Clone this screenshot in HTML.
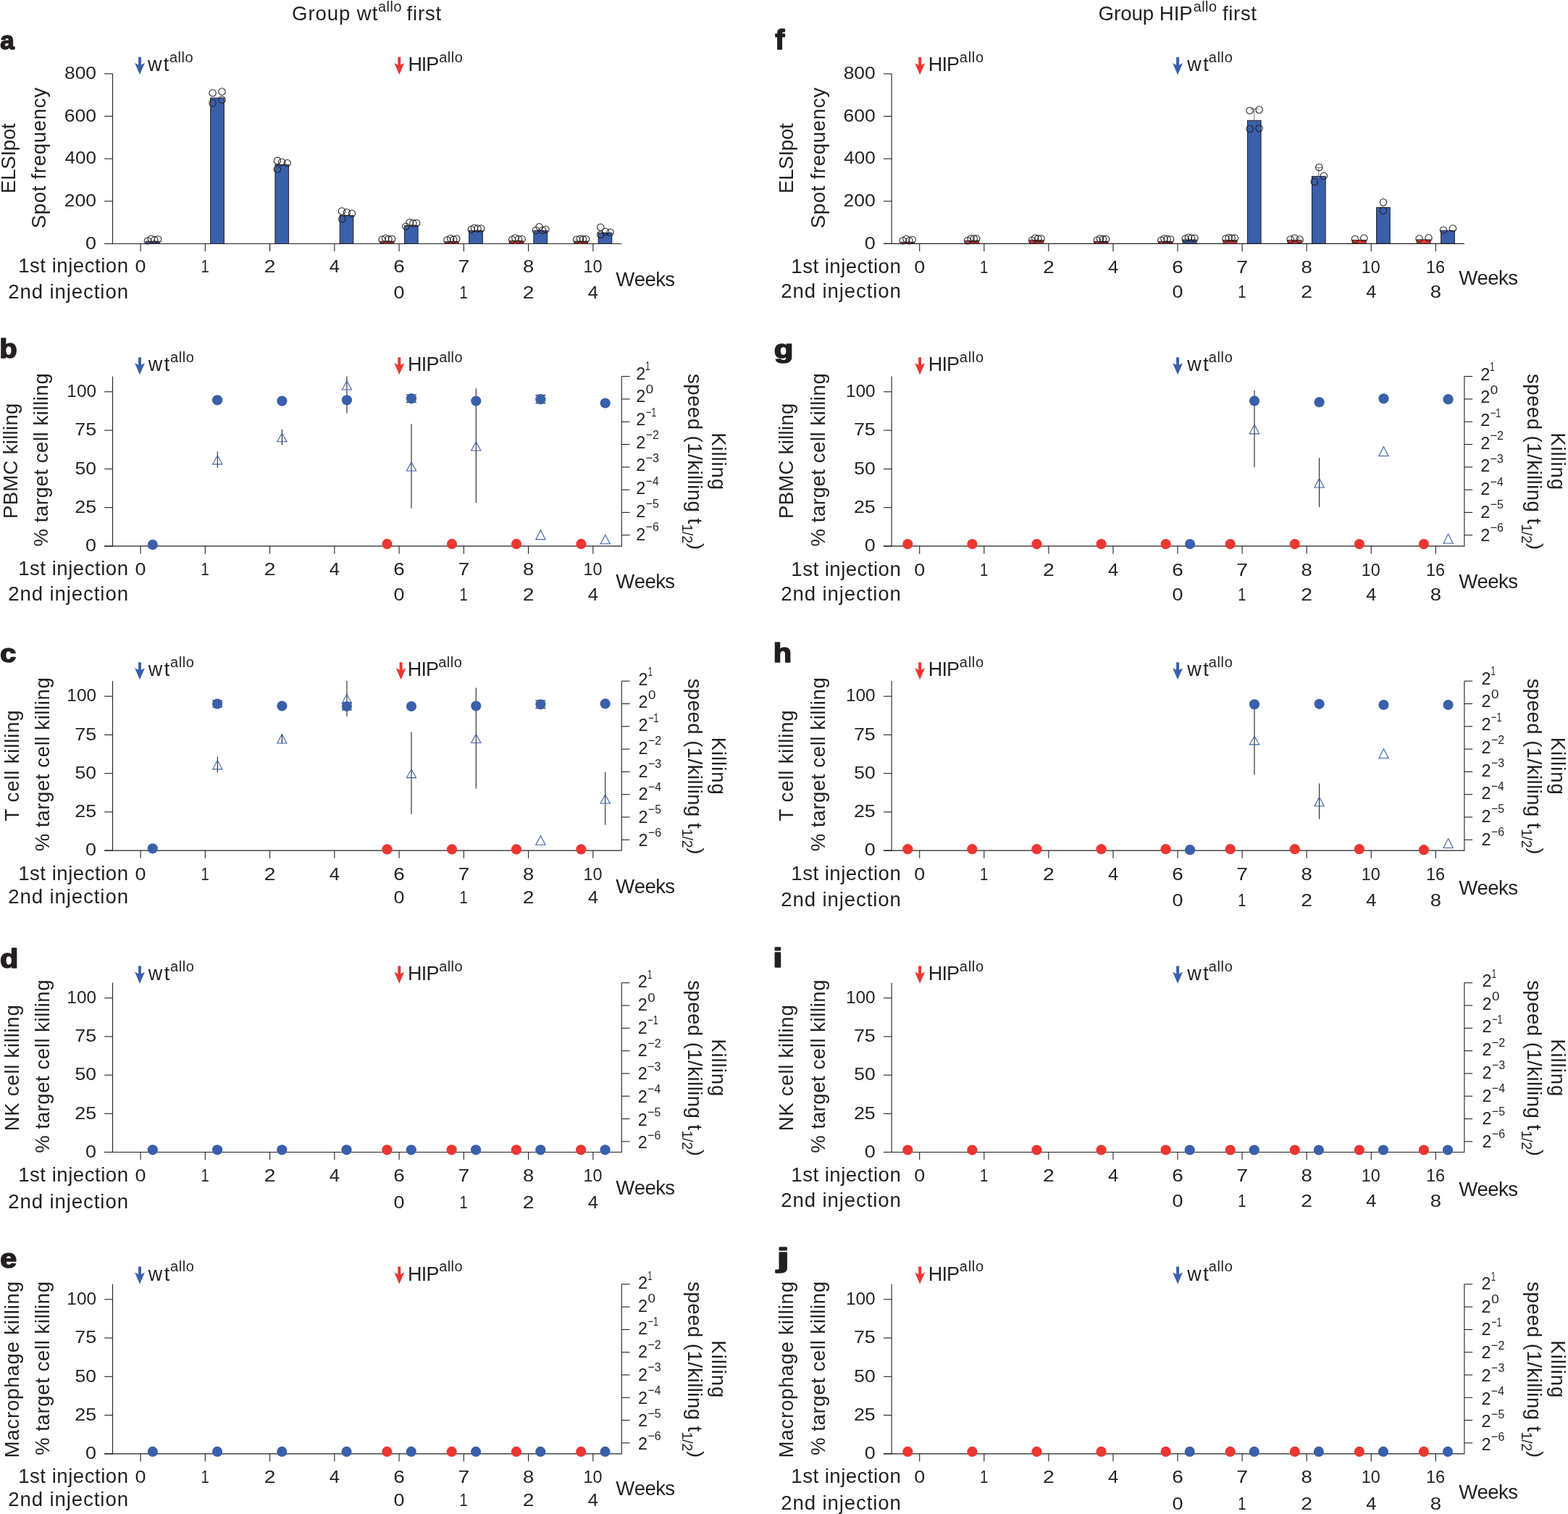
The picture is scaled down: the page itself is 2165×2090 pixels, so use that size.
<!DOCTYPE html>
<html><head><meta charset="utf-8"><title>Figure</title>
<style>
html,body{margin:0;padding:0;background:#fff;overflow:hidden;}
svg{display:block;}
text{font-family:"Liberation Sans",Arial,Helvetica,sans-serif;fill:#231f20;font-kerning:none;}
</style></head>
<body>
<svg xmlns="http://www.w3.org/2000/svg" width="2165" height="2090" viewBox="0 0 2165 2090">
<rect width="2165" height="2090" fill="#fff"/>
<text x="403.11" y="27.70" font-size="27.60" textLength="118.19" lengthAdjust="spacing">Group wt</text>
<text x="521.96" y="15.60" font-size="19.80" textLength="32.47" lengthAdjust="spacing">allo</text>
<text x="561.51" y="27.70" font-size="27.60" textLength="47.69" lengthAdjust="spacing">first</text>
<text x="1516.51" y="27.90" font-size="27.60" textLength="130.24" lengthAdjust="spacing">Group HIP</text>
<text x="1647.76" y="15.60" font-size="19.80" textLength="32.17" lengthAdjust="spacing">allo</text>
<text x="1688.01" y="27.90" font-size="27.60" textLength="46.99" lengthAdjust="spacing">first</text>
<text x="0.37" y="68.05" font-size="35.41" textLength="19.50" lengthAdjust="spacingAndGlyphs" font-weight="bold" stroke="#231f20" stroke-width="1.60" stroke-linejoin="round">a</text>
<line x1="155.50" y1="101.80" x2="155.50" y2="336.95" stroke="#231f20" stroke-width="1.10"/>
<line x1="144.20" y1="336.45" x2="155.50" y2="336.45" stroke="#231f20" stroke-width="1.10"/>
<text x="118.05" y="343.65" font-size="23.00" textLength="15.01" lengthAdjust="spacingAndGlyphs">0</text>
<line x1="144.20" y1="277.79" x2="155.50" y2="277.79" stroke="#231f20" stroke-width="1.10"/>
<text x="88.77" y="284.99" font-size="23.00" textLength="44.27" lengthAdjust="spacingAndGlyphs">200</text>
<line x1="144.20" y1="219.12" x2="155.50" y2="219.12" stroke="#231f20" stroke-width="1.10"/>
<text x="89.50" y="226.32" font-size="23.00" textLength="43.52" lengthAdjust="spacingAndGlyphs">400</text>
<line x1="144.20" y1="160.46" x2="155.50" y2="160.46" stroke="#231f20" stroke-width="1.10"/>
<text x="88.75" y="167.66" font-size="23.00" textLength="44.28" lengthAdjust="spacingAndGlyphs">600</text>
<line x1="144.20" y1="101.80" x2="155.50" y2="101.80" stroke="#231f20" stroke-width="1.10"/>
<text x="88.95" y="109.00" font-size="23.00" textLength="44.08" lengthAdjust="spacingAndGlyphs">800</text>
<g transform="translate(21.00 264.70) rotate(-90)"><text x="-2.26" y="0.00" font-size="27.60" textLength="96.67" lengthAdjust="spacing">ELSIpot</text></g>
<g transform="translate(62.90 314.10) rotate(-90)"><text x="-1.25" y="0.00" font-size="27.60" textLength="194.41" lengthAdjust="spacing">Spot frequency</text></g>
<polygon points="191.05,78.80 194.95,78.80 194.95,89.40 199.90,86.90 193.00,102.90 186.10,86.90 191.05,89.40" fill="#3a5fab"/>
<text x="203.94" y="97.90" font-size="27.00" textLength="29.36" lengthAdjust="spacing">wt</text>
<text x="233.95" y="85.80" font-size="20.00" textLength="32.79" lengthAdjust="spacing">allo</text>
<polygon points="549.35,78.80 553.25,78.80 553.25,89.40 558.20,86.90 551.30,102.90 544.40,86.90 549.35,89.40" fill="#ec3632"/>
<text x="563.39" y="97.90" font-size="27.00" textLength="42.94" lengthAdjust="spacing">HIP</text>
<text x="606.25" y="85.80" font-size="20.00" textLength="32.59" lengthAdjust="spacing">allo</text>
<rect x="201.40" y="333.20" width="18.7" height="3.25" fill="#3a5fab" stroke="#231f20" stroke-width="1"/>
<circle cx="203.90" cy="332.40" r="4.7" fill="none" stroke="#231f20" stroke-width="1.05"/>
<circle cx="208.80" cy="329.70" r="4.7" fill="none" stroke="#231f20" stroke-width="1.05"/>
<circle cx="213.30" cy="331.30" r="4.7" fill="none" stroke="#231f20" stroke-width="1.05"/>
<circle cx="218.10" cy="330.50" r="4.7" fill="none" stroke="#231f20" stroke-width="1.05"/>
<rect x="290.65" y="135.20" width="18.7" height="201.25" fill="#3a5fab" stroke="#231f20" stroke-width="1"/>
<circle cx="293.60" cy="128.40" r="4.7" fill="none" stroke="#231f20" stroke-width="1.05"/>
<circle cx="306.50" cy="126.50" r="4.7" fill="none" stroke="#231f20" stroke-width="1.05"/>
<circle cx="293.60" cy="142.20" r="4.7" fill="none" stroke="#231f20" stroke-width="1.05"/>
<circle cx="306.50" cy="137.70" r="4.7" fill="none" stroke="#231f20" stroke-width="1.05"/>
<rect x="379.90" y="227.30" width="18.7" height="109.15" fill="#3a5fab" stroke="#231f20" stroke-width="1"/>
<circle cx="382.90" cy="221.80" r="4.7" fill="none" stroke="#231f20" stroke-width="1.05"/>
<circle cx="389.30" cy="223.70" r="4.7" fill="none" stroke="#231f20" stroke-width="1.05"/>
<circle cx="396.70" cy="225.10" r="4.7" fill="none" stroke="#231f20" stroke-width="1.05"/>
<circle cx="382.90" cy="233.60" r="4.7" fill="none" stroke="#231f20" stroke-width="1.05"/>
<rect x="469.15" y="297.30" width="18.7" height="39.15" fill="#3a5fab" stroke="#231f20" stroke-width="1"/>
<circle cx="471.90" cy="291.50" r="4.7" fill="none" stroke="#231f20" stroke-width="1.05"/>
<circle cx="478.80" cy="293.30" r="4.7" fill="none" stroke="#231f20" stroke-width="1.05"/>
<circle cx="485.90" cy="294.80" r="4.7" fill="none" stroke="#231f20" stroke-width="1.05"/>
<circle cx="472.40" cy="302.40" r="4.7" fill="none" stroke="#231f20" stroke-width="1.05"/>
<rect x="525.10" y="333.10" width="18.7" height="3.35" fill="#ec3632" stroke="#231f20" stroke-width="1"/>
<circle cx="527.60" cy="330.80" r="4.7" fill="none" stroke="#231f20" stroke-width="1.05"/>
<circle cx="532.30" cy="329.00" r="4.7" fill="none" stroke="#231f20" stroke-width="1.05"/>
<circle cx="536.40" cy="330.20" r="4.7" fill="none" stroke="#231f20" stroke-width="1.05"/>
<circle cx="541.10" cy="330.00" r="4.7" fill="none" stroke="#231f20" stroke-width="1.05"/>
<rect x="558.40" y="311.40" width="18.7" height="25.05" fill="#3a5fab" stroke="#231f20" stroke-width="1"/>
<circle cx="560.40" cy="312.60" r="4.7" fill="none" stroke="#231f20" stroke-width="1.05"/>
<circle cx="565.70" cy="307.30" r="4.7" fill="none" stroke="#231f20" stroke-width="1.05"/>
<circle cx="570.40" cy="307.90" r="4.7" fill="none" stroke="#231f20" stroke-width="1.05"/>
<circle cx="575.10" cy="307.90" r="4.7" fill="none" stroke="#231f20" stroke-width="1.05"/>
<rect x="614.35" y="333.70" width="18.7" height="2.75" fill="#ec3632" stroke="#231f20" stroke-width="1"/>
<circle cx="617.40" cy="331.40" r="4.7" fill="none" stroke="#231f20" stroke-width="1.05"/>
<circle cx="622.10" cy="329.30" r="4.7" fill="none" stroke="#231f20" stroke-width="1.05"/>
<circle cx="626.20" cy="330.80" r="4.7" fill="none" stroke="#231f20" stroke-width="1.05"/>
<circle cx="630.30" cy="329.60" r="4.7" fill="none" stroke="#231f20" stroke-width="1.05"/>
<rect x="647.65" y="318.50" width="18.7" height="17.95" fill="#3a5fab" stroke="#231f20" stroke-width="1"/>
<circle cx="650.80" cy="316.70" r="4.7" fill="none" stroke="#231f20" stroke-width="1.05"/>
<circle cx="654.90" cy="314.70" r="4.7" fill="none" stroke="#231f20" stroke-width="1.05"/>
<circle cx="659.60" cy="315.50" r="4.7" fill="none" stroke="#231f20" stroke-width="1.05"/>
<circle cx="664.30" cy="315.50" r="4.7" fill="none" stroke="#231f20" stroke-width="1.05"/>
<rect x="703.60" y="332.60" width="18.7" height="3.85" fill="#ec3632" stroke="#231f20" stroke-width="1"/>
<circle cx="707.20" cy="330.80" r="4.7" fill="none" stroke="#231f20" stroke-width="1.05"/>
<circle cx="711.30" cy="328.50" r="4.7" fill="none" stroke="#231f20" stroke-width="1.05"/>
<circle cx="716.00" cy="330.20" r="4.7" fill="none" stroke="#231f20" stroke-width="1.05"/>
<circle cx="720.70" cy="330.20" r="4.7" fill="none" stroke="#231f20" stroke-width="1.05"/>
<rect x="736.90" y="318.50" width="18.7" height="17.95" fill="#3a5fab" stroke="#231f20" stroke-width="1"/>
<circle cx="739.90" cy="317.90" r="4.7" fill="none" stroke="#231f20" stroke-width="1.05"/>
<circle cx="744.60" cy="313.20" r="4.7" fill="none" stroke="#231f20" stroke-width="1.05"/>
<circle cx="749.20" cy="317.90" r="4.7" fill="none" stroke="#231f20" stroke-width="1.05"/>
<circle cx="753.40" cy="316.70" r="4.7" fill="none" stroke="#231f20" stroke-width="1.05"/>
<rect x="792.85" y="333.10" width="18.7" height="3.35" fill="#ec3632" stroke="#231f20" stroke-width="1"/>
<circle cx="796.20" cy="330.80" r="4.7" fill="none" stroke="#231f20" stroke-width="1.05"/>
<circle cx="800.90" cy="329.60" r="4.7" fill="none" stroke="#231f20" stroke-width="1.05"/>
<circle cx="805.00" cy="330.20" r="4.7" fill="none" stroke="#231f20" stroke-width="1.05"/>
<circle cx="809.10" cy="330.20" r="4.7" fill="none" stroke="#231f20" stroke-width="1.05"/>
<rect x="826.15" y="321.40" width="18.7" height="15.05" fill="#3a5fab" stroke="#231f20" stroke-width="1"/>
<circle cx="829.30" cy="313.80" r="4.7" fill="none" stroke="#231f20" stroke-width="1.05"/>
<circle cx="829.30" cy="323.80" r="4.7" fill="none" stroke="#231f20" stroke-width="1.05"/>
<circle cx="836.10" cy="319.70" r="4.7" fill="none" stroke="#231f20" stroke-width="1.05"/>
<circle cx="842.60" cy="320.80" r="4.7" fill="none" stroke="#231f20" stroke-width="1.05"/>
<line x1="144.10" y1="336.45" x2="858.30" y2="336.45" stroke="#231f20" stroke-width="1.10"/>
<line x1="194.10" y1="336.45" x2="194.10" y2="347.05" stroke="#231f20" stroke-width="1.10"/>
<text x="186.60" y="375.90" font-size="23.00" textLength="15.01" lengthAdjust="spacingAndGlyphs">0</text>
<line x1="283.35" y1="336.45" x2="283.35" y2="347.05" stroke="#231f20" stroke-width="1.10"/>
<text x="277.46" y="375.90" font-size="23.00" textLength="11.22" lengthAdjust="spacingAndGlyphs">1</text>
<line x1="372.60" y1="336.45" x2="372.60" y2="347.05" stroke="#231f20" stroke-width="1.10"/>
<text x="364.73" y="375.90" font-size="23.00" textLength="15.75" lengthAdjust="spacingAndGlyphs">2</text>
<line x1="461.85" y1="336.45" x2="461.85" y2="347.05" stroke="#231f20" stroke-width="1.10"/>
<text x="454.81" y="375.90" font-size="23.00" textLength="14.24" lengthAdjust="spacingAndGlyphs">4</text>
<line x1="551.10" y1="336.45" x2="551.10" y2="347.05" stroke="#231f20" stroke-width="1.10"/>
<text x="543.23" y="375.90" font-size="23.00" textLength="15.55" lengthAdjust="spacingAndGlyphs">6</text>
<text x="543.60" y="411.60" font-size="23.00" textLength="15.01" lengthAdjust="spacingAndGlyphs">0</text>
<line x1="640.35" y1="336.45" x2="640.35" y2="347.05" stroke="#231f20" stroke-width="1.10"/>
<text x="632.45" y="375.90" font-size="23.00" textLength="15.78" lengthAdjust="spacingAndGlyphs">7</text>
<text x="634.46" y="411.60" font-size="23.00" textLength="11.22" lengthAdjust="spacingAndGlyphs">1</text>
<line x1="729.60" y1="336.45" x2="729.60" y2="347.05" stroke="#231f20" stroke-width="1.10"/>
<text x="721.96" y="375.90" font-size="23.00" textLength="15.29" lengthAdjust="spacingAndGlyphs">8</text>
<text x="721.73" y="411.60" font-size="23.00" textLength="15.75" lengthAdjust="spacingAndGlyphs">2</text>
<line x1="818.85" y1="336.45" x2="818.85" y2="347.05" stroke="#231f20" stroke-width="1.10"/>
<text x="805.42" y="375.90" font-size="23.00" textLength="25.99" lengthAdjust="spacingAndGlyphs">10</text>
<text x="811.81" y="411.60" font-size="23.00" textLength="14.24" lengthAdjust="spacingAndGlyphs">4</text>
<text x="25.20" y="375.90" font-size="27.60" textLength="151.79" lengthAdjust="spacing">1st injection</text>
<text x="11.21" y="411.60" font-size="27.60" textLength="165.78" lengthAdjust="spacing">2nd injection</text>
<text x="850.28" y="394.60" font-size="27.60" textLength="81.82" lengthAdjust="spacing">Weeks</text>
<text x="1070.23" y="68.00" font-size="38.23" textLength="12.99" lengthAdjust="spacingAndGlyphs" font-weight="bold" stroke="#231f20" stroke-width="1.60" stroke-linejoin="round">f</text>
<line x1="1231.10" y1="101.90" x2="1231.10" y2="336.90" stroke="#231f20" stroke-width="1.10"/>
<line x1="1220.00" y1="336.40" x2="1231.10" y2="336.40" stroke="#231f20" stroke-width="1.10"/>
<text x="1193.75" y="343.60" font-size="23.00" textLength="15.01" lengthAdjust="spacingAndGlyphs">0</text>
<line x1="1220.00" y1="277.77" x2="1231.10" y2="277.77" stroke="#231f20" stroke-width="1.10"/>
<text x="1164.47" y="284.97" font-size="23.00" textLength="44.27" lengthAdjust="spacingAndGlyphs">200</text>
<line x1="1220.00" y1="219.15" x2="1231.10" y2="219.15" stroke="#231f20" stroke-width="1.10"/>
<text x="1165.20" y="226.35" font-size="23.00" textLength="43.52" lengthAdjust="spacingAndGlyphs">400</text>
<line x1="1220.00" y1="160.53" x2="1231.10" y2="160.53" stroke="#231f20" stroke-width="1.10"/>
<text x="1164.45" y="167.72" font-size="23.00" textLength="44.28" lengthAdjust="spacingAndGlyphs">600</text>
<line x1="1220.00" y1="101.90" x2="1231.10" y2="101.90" stroke="#231f20" stroke-width="1.10"/>
<text x="1164.65" y="109.10" font-size="23.00" textLength="44.08" lengthAdjust="spacingAndGlyphs">800</text>
<g transform="translate(1095.00 264.70) rotate(-90)"><text x="-2.26" y="0.00" font-size="27.60" textLength="96.67" lengthAdjust="spacing">ELSIpot</text></g>
<g transform="translate(1138.80 314.10) rotate(-90)"><text x="-1.25" y="0.00" font-size="27.60" textLength="194.41" lengthAdjust="spacing">Spot frequency</text></g>
<polygon points="1268.25,79.10 1272.15,79.10 1272.15,89.70 1277.10,87.20 1270.20,103.20 1263.30,87.20 1268.25,89.70" fill="#ec3632"/>
<text x="1281.69" y="98.20" font-size="27.00" textLength="43.44" lengthAdjust="spacing">HIP</text>
<text x="1324.85" y="86.10" font-size="20.00" textLength="33.29" lengthAdjust="spacing">allo</text>
<polygon points="1624.15,79.10 1628.05,79.10 1628.05,89.70 1633.00,87.20 1626.10,103.20 1619.20,87.20 1624.15,89.70" fill="#3a5fab"/>
<text x="1639.34" y="98.20" font-size="27.00" textLength="29.36" lengthAdjust="spacing">wt</text>
<text x="1668.75" y="86.10" font-size="20.00" textLength="33.09" lengthAdjust="spacing">allo</text>
<rect x="1243.70" y="334.30" width="18.7" height="2.10" fill="#ec3632" stroke="#231f20" stroke-width="1"/>
<circle cx="1246.70" cy="332.30" r="4.7" fill="none" stroke="#231f20" stroke-width="1.05"/>
<circle cx="1251.40" cy="330.00" r="4.7" fill="none" stroke="#231f20" stroke-width="1.05"/>
<circle cx="1255.50" cy="332.30" r="4.7" fill="none" stroke="#231f20" stroke-width="1.05"/>
<circle cx="1259.60" cy="330.90" r="4.7" fill="none" stroke="#231f20" stroke-width="1.05"/>
<rect x="1332.78" y="332.30" width="18.7" height="4.10" fill="#ec3632" stroke="#231f20" stroke-width="1"/>
<circle cx="1336.00" cy="332.30" r="4.7" fill="none" stroke="#231f20" stroke-width="1.05"/>
<circle cx="1340.60" cy="329.40" r="4.7" fill="none" stroke="#231f20" stroke-width="1.05"/>
<circle cx="1344.70" cy="329.40" r="4.7" fill="none" stroke="#231f20" stroke-width="1.05"/>
<circle cx="1348.30" cy="329.40" r="4.7" fill="none" stroke="#231f20" stroke-width="1.05"/>
<rect x="1421.86" y="331.70" width="18.7" height="4.70" fill="#ec3632" stroke="#231f20" stroke-width="1"/>
<circle cx="1425.10" cy="331.70" r="4.7" fill="none" stroke="#231f20" stroke-width="1.05"/>
<circle cx="1429.30" cy="328.80" r="4.7" fill="none" stroke="#231f20" stroke-width="1.05"/>
<circle cx="1433.40" cy="329.40" r="4.7" fill="none" stroke="#231f20" stroke-width="1.05"/>
<circle cx="1437.50" cy="329.40" r="4.7" fill="none" stroke="#231f20" stroke-width="1.05"/>
<rect x="1510.94" y="333.50" width="18.7" height="2.90" fill="#ec3632" stroke="#231f20" stroke-width="1"/>
<circle cx="1514.70" cy="331.70" r="4.7" fill="none" stroke="#231f20" stroke-width="1.05"/>
<circle cx="1518.80" cy="329.40" r="4.7" fill="none" stroke="#231f20" stroke-width="1.05"/>
<circle cx="1522.90" cy="330.00" r="4.7" fill="none" stroke="#231f20" stroke-width="1.05"/>
<circle cx="1527.00" cy="330.00" r="4.7" fill="none" stroke="#231f20" stroke-width="1.05"/>
<rect x="1600.02" y="333.50" width="18.7" height="2.90" fill="#ec3632" stroke="#231f20" stroke-width="1"/>
<circle cx="1603.30" cy="331.70" r="4.7" fill="none" stroke="#231f20" stroke-width="1.05"/>
<circle cx="1607.40" cy="329.40" r="4.7" fill="none" stroke="#231f20" stroke-width="1.05"/>
<circle cx="1611.50" cy="330.00" r="4.7" fill="none" stroke="#231f20" stroke-width="1.05"/>
<circle cx="1616.20" cy="330.50" r="4.7" fill="none" stroke="#231f20" stroke-width="1.05"/>
<rect x="1633.32" y="331.10" width="18.7" height="5.30" fill="#3a5fab" stroke="#231f20" stroke-width="1"/>
<circle cx="1636.70" cy="329.40" r="4.7" fill="none" stroke="#231f20" stroke-width="1.05"/>
<circle cx="1640.80" cy="327.60" r="4.7" fill="none" stroke="#231f20" stroke-width="1.05"/>
<circle cx="1645.00" cy="328.80" r="4.7" fill="none" stroke="#231f20" stroke-width="1.05"/>
<circle cx="1649.60" cy="328.80" r="4.7" fill="none" stroke="#231f20" stroke-width="1.05"/>
<rect x="1689.10" y="331.70" width="18.7" height="4.70" fill="#ec3632" stroke="#231f20" stroke-width="1"/>
<circle cx="1692.50" cy="329.40" r="4.7" fill="none" stroke="#231f20" stroke-width="1.05"/>
<circle cx="1696.60" cy="328.20" r="4.7" fill="none" stroke="#231f20" stroke-width="1.05"/>
<circle cx="1700.70" cy="328.80" r="4.7" fill="none" stroke="#231f20" stroke-width="1.05"/>
<circle cx="1704.80" cy="328.80" r="4.7" fill="none" stroke="#231f20" stroke-width="1.05"/>
<rect x="1778.18" y="331.70" width="18.7" height="4.70" fill="#ec3632" stroke="#231f20" stroke-width="1"/>
<circle cx="1781.70" cy="330.50" r="4.7" fill="none" stroke="#231f20" stroke-width="1.05"/>
<circle cx="1787.60" cy="328.80" r="4.7" fill="none" stroke="#231f20" stroke-width="1.05"/>
<circle cx="1794.60" cy="330.50" r="4.7" fill="none" stroke="#231f20" stroke-width="1.05"/>
<rect x="1867.26" y="331.50" width="18.7" height="4.90" fill="#ec3632" stroke="#231f20" stroke-width="1"/>
<circle cx="1870.90" cy="330.00" r="4.7" fill="none" stroke="#231f20" stroke-width="1.05"/>
<circle cx="1883.30" cy="328.80" r="4.7" fill="none" stroke="#231f20" stroke-width="1.05"/>
<rect x="1956.34" y="330.90" width="18.7" height="5.50" fill="#ec3632" stroke="#231f20" stroke-width="1"/>
<circle cx="1959.60" cy="329.40" r="4.7" fill="none" stroke="#231f20" stroke-width="1.05"/>
<circle cx="1972.50" cy="328.50" r="4.7" fill="none" stroke="#231f20" stroke-width="1.05"/>
<rect x="1722.40" y="166.30" width="18.7" height="170.10" fill="#3a5fab" stroke="#231f20" stroke-width="1"/>
<line x1="1731.75" y1="150.30" x2="1731.75" y2="166.20" stroke="#808080" stroke-width="1.10"/>
<line x1="1726.40" y1="150.30" x2="1737.90" y2="150.30" stroke="#808080" stroke-width="1.10"/>
<circle cx="1725.60" cy="152.60" r="4.7" fill="none" stroke="#231f20" stroke-width="1.05"/>
<circle cx="1738.60" cy="151.50" r="4.7" fill="none" stroke="#231f20" stroke-width="1.05"/>
<circle cx="1725.60" cy="177.90" r="4.7" fill="none" stroke="#231f20" stroke-width="1.05"/>
<circle cx="1738.60" cy="177.30" r="4.7" fill="none" stroke="#231f20" stroke-width="1.05"/>
<rect x="1811.48" y="243.40" width="18.7" height="93.00" fill="#3a5fab" stroke="#231f20" stroke-width="1"/>
<line x1="1820.83" y1="231.40" x2="1820.83" y2="243.40" stroke="#808080" stroke-width="1.10"/>
<line x1="1815.50" y1="231.40" x2="1826.60" y2="231.40" stroke="#808080" stroke-width="1.10"/>
<circle cx="1821.30" cy="231.00" r="4.7" fill="none" stroke="#231f20" stroke-width="1.05"/>
<circle cx="1827.80" cy="242.90" r="4.7" fill="none" stroke="#231f20" stroke-width="1.05"/>
<circle cx="1814.80" cy="251.00" r="4.7" fill="none" stroke="#231f20" stroke-width="1.05"/>
<rect x="1900.56" y="286.40" width="18.7" height="50.00" fill="#3a5fab" stroke="#231f20" stroke-width="1"/>
<circle cx="1910.00" cy="279.20" r="4.7" fill="none" stroke="#231f20" stroke-width="1.05"/>
<circle cx="1910.00" cy="290.80" r="4.7" fill="none" stroke="#231f20" stroke-width="1.05"/>
<rect x="1989.64" y="318.20" width="18.7" height="18.20" fill="#3a5fab" stroke="#231f20" stroke-width="1"/>
<circle cx="1993.00" cy="317.60" r="4.7" fill="none" stroke="#231f20" stroke-width="1.05"/>
<circle cx="2005.90" cy="315.40" r="4.7" fill="none" stroke="#231f20" stroke-width="1.05"/>
<line x1="1220.00" y1="336.40" x2="2021.90" y2="336.40" stroke="#231f20" stroke-width="1.10"/>
<line x1="1269.70" y1="336.40" x2="1269.70" y2="347.00" stroke="#231f20" stroke-width="1.10"/>
<text x="1262.20" y="377.00" font-size="23.00" textLength="15.01" lengthAdjust="spacingAndGlyphs">0</text>
<line x1="1358.78" y1="336.40" x2="1358.78" y2="347.00" stroke="#231f20" stroke-width="1.10"/>
<text x="1352.89" y="377.00" font-size="23.00" textLength="11.22" lengthAdjust="spacingAndGlyphs">1</text>
<line x1="1447.86" y1="336.40" x2="1447.86" y2="347.00" stroke="#231f20" stroke-width="1.10"/>
<text x="1439.99" y="377.00" font-size="23.00" textLength="15.75" lengthAdjust="spacingAndGlyphs">2</text>
<line x1="1536.94" y1="336.40" x2="1536.94" y2="347.00" stroke="#231f20" stroke-width="1.10"/>
<text x="1529.90" y="377.00" font-size="23.00" textLength="14.24" lengthAdjust="spacingAndGlyphs">4</text>
<line x1="1626.02" y1="336.40" x2="1626.02" y2="347.00" stroke="#231f20" stroke-width="1.10"/>
<text x="1618.15" y="377.00" font-size="23.00" textLength="15.55" lengthAdjust="spacingAndGlyphs">6</text>
<text x="1618.52" y="411.30" font-size="23.00" textLength="15.01" lengthAdjust="spacingAndGlyphs">0</text>
<line x1="1715.10" y1="336.40" x2="1715.10" y2="347.00" stroke="#231f20" stroke-width="1.10"/>
<text x="1707.20" y="377.00" font-size="23.00" textLength="15.78" lengthAdjust="spacingAndGlyphs">7</text>
<text x="1709.21" y="411.30" font-size="23.00" textLength="11.22" lengthAdjust="spacingAndGlyphs">1</text>
<line x1="1804.18" y1="336.40" x2="1804.18" y2="347.00" stroke="#231f20" stroke-width="1.10"/>
<text x="1796.54" y="377.00" font-size="23.00" textLength="15.29" lengthAdjust="spacingAndGlyphs">8</text>
<text x="1796.31" y="411.30" font-size="23.00" textLength="15.75" lengthAdjust="spacingAndGlyphs">2</text>
<line x1="1893.26" y1="336.40" x2="1893.26" y2="347.00" stroke="#231f20" stroke-width="1.10"/>
<text x="1879.83" y="377.00" font-size="23.00" textLength="25.99" lengthAdjust="spacingAndGlyphs">10</text>
<text x="1886.22" y="411.30" font-size="23.00" textLength="14.24" lengthAdjust="spacingAndGlyphs">4</text>
<line x1="1982.34" y1="336.40" x2="1982.34" y2="347.00" stroke="#231f20" stroke-width="1.10"/>
<text x="1968.90" y="377.00" font-size="23.00" textLength="26.12" lengthAdjust="spacingAndGlyphs">16</text>
<text x="1974.70" y="411.30" font-size="23.00" textLength="15.29" lengthAdjust="spacingAndGlyphs">8</text>
<text x="1092.30" y="377.00" font-size="27.60" textLength="151.49" lengthAdjust="spacing">1st injection</text>
<text x="1078.21" y="411.30" font-size="27.60" textLength="165.58" lengthAdjust="spacing">2nd injection</text>
<text x="2014.18" y="392.70" font-size="27.60" textLength="81.82" lengthAdjust="spacing">Weeks</text>
<text x="-0.74" y="494.44" font-size="37.31" textLength="24.49" lengthAdjust="spacingAndGlyphs" font-weight="bold" stroke="#231f20" stroke-width="1.60" stroke-linejoin="round">b</text>
<line x1="155.50" y1="519.60" x2="155.50" y2="754.40" stroke="#231f20" stroke-width="1.10"/>
<line x1="144.20" y1="753.90" x2="155.50" y2="753.90" stroke="#231f20" stroke-width="1.10"/>
<text x="118.05" y="761.10" font-size="23.00" textLength="15.01" lengthAdjust="spacingAndGlyphs">0</text>
<line x1="144.20" y1="700.62" x2="155.50" y2="700.62" stroke="#231f20" stroke-width="1.10"/>
<text x="103.25" y="707.83" font-size="23.00" textLength="29.88" lengthAdjust="spacingAndGlyphs">25</text>
<line x1="144.20" y1="647.35" x2="155.50" y2="647.35" stroke="#231f20" stroke-width="1.10"/>
<text x="103.54" y="654.55" font-size="23.00" textLength="29.50" lengthAdjust="spacingAndGlyphs">50</text>
<line x1="144.20" y1="594.07" x2="155.50" y2="594.07" stroke="#231f20" stroke-width="1.10"/>
<text x="103.22" y="601.27" font-size="23.00" textLength="29.91" lengthAdjust="spacingAndGlyphs">75</text>
<line x1="144.20" y1="540.80" x2="155.50" y2="540.80" stroke="#231f20" stroke-width="1.10"/>
<text x="92.35" y="548.00" font-size="23.00" textLength="40.60" lengthAdjust="spacingAndGlyphs">100</text>
<line x1="858.30" y1="519.60" x2="858.30" y2="754.40" stroke="#231f20" stroke-width="1.10"/>
<line x1="858.30" y1="519.60" x2="869.50" y2="519.60" stroke="#231f20" stroke-width="1.10"/>
<text x="878.22" y="523.60" font-size="23.00" textLength="13.06" lengthAdjust="spacingAndGlyphs">2</text>
<text x="891.33" y="511.10" font-size="17.30" textLength="6.32" lengthAdjust="spacingAndGlyphs">1</text>
<line x1="858.30" y1="550.90" x2="869.50" y2="550.90" stroke="#231f20" stroke-width="1.10"/>
<text x="878.22" y="555.30" font-size="23.00" textLength="13.06" lengthAdjust="spacingAndGlyphs">2</text>
<text x="891.76" y="542.80" font-size="17.30" textLength="10.47" lengthAdjust="spacingAndGlyphs">0</text>
<line x1="858.30" y1="582.20" x2="869.50" y2="582.20" stroke="#231f20" stroke-width="1.10"/>
<text x="878.22" y="587.00" font-size="23.00" textLength="13.06" lengthAdjust="spacingAndGlyphs">2</text>
<text x="891.88" y="574.50" font-size="17.30" textLength="14.33" lengthAdjust="spacingAndGlyphs">−1</text>
<line x1="858.30" y1="613.50" x2="869.50" y2="613.50" stroke="#231f20" stroke-width="1.10"/>
<text x="878.22" y="618.70" font-size="23.00" textLength="13.06" lengthAdjust="spacingAndGlyphs">2</text>
<text x="891.71" y="606.20" font-size="17.30" textLength="18.30" lengthAdjust="spacingAndGlyphs">−2</text>
<line x1="858.30" y1="644.80" x2="869.50" y2="644.80" stroke="#231f20" stroke-width="1.10"/>
<text x="878.22" y="650.40" font-size="23.00" textLength="13.06" lengthAdjust="spacingAndGlyphs">2</text>
<text x="891.71" y="637.90" font-size="17.30" textLength="18.19" lengthAdjust="spacingAndGlyphs">−3</text>
<line x1="858.30" y1="676.10" x2="869.50" y2="676.10" stroke="#231f20" stroke-width="1.10"/>
<text x="878.22" y="682.10" font-size="23.00" textLength="13.06" lengthAdjust="spacingAndGlyphs">2</text>
<text x="891.72" y="669.60" font-size="17.30" textLength="17.94" lengthAdjust="spacingAndGlyphs">−4</text>
<line x1="858.30" y1="707.40" x2="869.50" y2="707.40" stroke="#231f20" stroke-width="1.10"/>
<text x="878.22" y="713.80" font-size="23.00" textLength="13.06" lengthAdjust="spacingAndGlyphs">2</text>
<text x="891.71" y="701.30" font-size="17.30" textLength="18.15" lengthAdjust="spacingAndGlyphs">−5</text>
<line x1="858.30" y1="738.70" x2="869.50" y2="738.70" stroke="#231f20" stroke-width="1.10"/>
<text x="878.22" y="745.50" font-size="23.00" textLength="13.06" lengthAdjust="spacingAndGlyphs">2</text>
<text x="891.71" y="733.00" font-size="17.30" textLength="18.19" lengthAdjust="spacingAndGlyphs">−6</text>
<g transform="translate(983.00 599.40) rotate(90)"><text x="-2.26" y="0.00" font-size="27.60" textLength="79.04" lengthAdjust="spacing">Killing</text></g>
<g transform="translate(950.30 516.80) rotate(90)"><text x="-0.77" y="0.00" font-size="27.60" textLength="207.07" lengthAdjust="spacing">speed (1/killing t</text></g>
<g transform="translate(942.10 724.90) rotate(90)"><text x="-1.49" y="0.00" font-size="19.60" textLength="26.68" lengthAdjust="spacing">1/2</text></g>
<g transform="translate(952.50 749.90) rotate(90)"><text x="-0.16" y="0.00" font-size="26.50" textLength="9.17" lengthAdjust="spacingAndGlyphs">)</text></g>
<g transform="translate(24.40 713.70) rotate(-90)"><text x="-2.26" y="0.00" font-size="27.60" textLength="159.34" lengthAdjust="spacing">PBMC killing</text></g>
<g transform="translate(65.90 753.60) rotate(-90)"><text x="-0.98" y="0.00" font-size="27.60" textLength="239.36" lengthAdjust="spacing">% target cell killing</text></g>
<line x1="144.10" y1="753.90" x2="858.30" y2="753.90" stroke="#231f20" stroke-width="1.10"/>
<line x1="194.10" y1="753.90" x2="194.10" y2="764.50" stroke="#231f20" stroke-width="1.10"/>
<text x="186.60" y="793.90" font-size="23.00" textLength="15.01" lengthAdjust="spacingAndGlyphs">0</text>
<line x1="283.35" y1="753.90" x2="283.35" y2="764.50" stroke="#231f20" stroke-width="1.10"/>
<text x="277.46" y="793.90" font-size="23.00" textLength="11.22" lengthAdjust="spacingAndGlyphs">1</text>
<line x1="372.60" y1="753.90" x2="372.60" y2="764.50" stroke="#231f20" stroke-width="1.10"/>
<text x="364.73" y="793.90" font-size="23.00" textLength="15.75" lengthAdjust="spacingAndGlyphs">2</text>
<line x1="461.85" y1="753.90" x2="461.85" y2="764.50" stroke="#231f20" stroke-width="1.10"/>
<text x="454.81" y="793.90" font-size="23.00" textLength="14.24" lengthAdjust="spacingAndGlyphs">4</text>
<line x1="551.10" y1="753.90" x2="551.10" y2="764.50" stroke="#231f20" stroke-width="1.10"/>
<text x="543.23" y="793.90" font-size="23.00" textLength="15.55" lengthAdjust="spacingAndGlyphs">6</text>
<text x="543.60" y="829.10" font-size="23.00" textLength="15.01" lengthAdjust="spacingAndGlyphs">0</text>
<line x1="640.35" y1="753.90" x2="640.35" y2="764.50" stroke="#231f20" stroke-width="1.10"/>
<text x="632.45" y="793.90" font-size="23.00" textLength="15.78" lengthAdjust="spacingAndGlyphs">7</text>
<text x="634.46" y="829.10" font-size="23.00" textLength="11.22" lengthAdjust="spacingAndGlyphs">1</text>
<line x1="729.60" y1="753.90" x2="729.60" y2="764.50" stroke="#231f20" stroke-width="1.10"/>
<text x="721.96" y="793.90" font-size="23.00" textLength="15.29" lengthAdjust="spacingAndGlyphs">8</text>
<text x="721.73" y="829.10" font-size="23.00" textLength="15.75" lengthAdjust="spacingAndGlyphs">2</text>
<line x1="818.85" y1="753.90" x2="818.85" y2="764.50" stroke="#231f20" stroke-width="1.10"/>
<text x="805.42" y="793.90" font-size="23.00" textLength="25.99" lengthAdjust="spacingAndGlyphs">10</text>
<text x="811.81" y="829.10" font-size="23.00" textLength="14.24" lengthAdjust="spacingAndGlyphs">4</text>
<text x="25.20" y="793.90" font-size="27.60" textLength="151.79" lengthAdjust="spacing">1st injection</text>
<text x="11.21" y="829.10" font-size="27.60" textLength="165.78" lengthAdjust="spacing">2nd injection</text>
<text x="850.28" y="812.10" font-size="27.60" textLength="81.82" lengthAdjust="spacing">Weeks</text>
<text x="1068.81" y="494.21" font-size="34.38" textLength="26.60" lengthAdjust="spacingAndGlyphs" font-weight="bold" stroke="#231f20" stroke-width="1.60" stroke-linejoin="round">g</text>
<line x1="1231.10" y1="519.60" x2="1231.10" y2="754.40" stroke="#231f20" stroke-width="1.10"/>
<line x1="1220.00" y1="753.90" x2="1231.10" y2="753.90" stroke="#231f20" stroke-width="1.10"/>
<text x="1193.75" y="761.10" font-size="23.00" textLength="15.01" lengthAdjust="spacingAndGlyphs">0</text>
<line x1="1220.00" y1="700.62" x2="1231.10" y2="700.62" stroke="#231f20" stroke-width="1.10"/>
<text x="1178.95" y="707.83" font-size="23.00" textLength="29.88" lengthAdjust="spacingAndGlyphs">25</text>
<line x1="1220.00" y1="647.35" x2="1231.10" y2="647.35" stroke="#231f20" stroke-width="1.10"/>
<text x="1179.24" y="654.55" font-size="23.00" textLength="29.50" lengthAdjust="spacingAndGlyphs">50</text>
<line x1="1220.00" y1="594.07" x2="1231.10" y2="594.07" stroke="#231f20" stroke-width="1.10"/>
<text x="1178.92" y="601.27" font-size="23.00" textLength="29.91" lengthAdjust="spacingAndGlyphs">75</text>
<line x1="1220.00" y1="540.80" x2="1231.10" y2="540.80" stroke="#231f20" stroke-width="1.10"/>
<text x="1168.05" y="548.00" font-size="23.00" textLength="40.60" lengthAdjust="spacingAndGlyphs">100</text>
<line x1="2021.90" y1="519.60" x2="2021.90" y2="754.40" stroke="#231f20" stroke-width="1.10"/>
<line x1="2021.90" y1="519.60" x2="2033.10" y2="519.60" stroke="#231f20" stroke-width="1.10"/>
<text x="2044.22" y="524.60" font-size="23.00" textLength="13.06" lengthAdjust="spacingAndGlyphs">2</text>
<text x="2057.33" y="512.10" font-size="17.30" textLength="6.32" lengthAdjust="spacingAndGlyphs">1</text>
<line x1="2021.90" y1="550.90" x2="2033.10" y2="550.90" stroke="#231f20" stroke-width="1.10"/>
<text x="2044.22" y="556.30" font-size="23.00" textLength="13.06" lengthAdjust="spacingAndGlyphs">2</text>
<text x="2057.76" y="543.80" font-size="17.30" textLength="10.47" lengthAdjust="spacingAndGlyphs">0</text>
<line x1="2021.90" y1="582.20" x2="2033.10" y2="582.20" stroke="#231f20" stroke-width="1.10"/>
<text x="2044.22" y="588.00" font-size="23.00" textLength="13.06" lengthAdjust="spacingAndGlyphs">2</text>
<text x="2057.88" y="575.50" font-size="17.30" textLength="14.33" lengthAdjust="spacingAndGlyphs">−1</text>
<line x1="2021.90" y1="613.50" x2="2033.10" y2="613.50" stroke="#231f20" stroke-width="1.10"/>
<text x="2044.22" y="619.70" font-size="23.00" textLength="13.06" lengthAdjust="spacingAndGlyphs">2</text>
<text x="2057.71" y="607.20" font-size="17.30" textLength="18.30" lengthAdjust="spacingAndGlyphs">−2</text>
<line x1="2021.90" y1="644.80" x2="2033.10" y2="644.80" stroke="#231f20" stroke-width="1.10"/>
<text x="2044.22" y="651.40" font-size="23.00" textLength="13.06" lengthAdjust="spacingAndGlyphs">2</text>
<text x="2057.71" y="638.90" font-size="17.30" textLength="18.19" lengthAdjust="spacingAndGlyphs">−3</text>
<line x1="2021.90" y1="676.10" x2="2033.10" y2="676.10" stroke="#231f20" stroke-width="1.10"/>
<text x="2044.22" y="683.10" font-size="23.00" textLength="13.06" lengthAdjust="spacingAndGlyphs">2</text>
<text x="2057.72" y="670.60" font-size="17.30" textLength="17.94" lengthAdjust="spacingAndGlyphs">−4</text>
<line x1="2021.90" y1="707.40" x2="2033.10" y2="707.40" stroke="#231f20" stroke-width="1.10"/>
<text x="2044.22" y="714.80" font-size="23.00" textLength="13.06" lengthAdjust="spacingAndGlyphs">2</text>
<text x="2057.71" y="702.30" font-size="17.30" textLength="18.15" lengthAdjust="spacingAndGlyphs">−5</text>
<line x1="2021.90" y1="738.70" x2="2033.10" y2="738.70" stroke="#231f20" stroke-width="1.10"/>
<text x="2044.22" y="746.50" font-size="23.00" textLength="13.06" lengthAdjust="spacingAndGlyphs">2</text>
<text x="2057.71" y="734.00" font-size="17.30" textLength="18.19" lengthAdjust="spacingAndGlyphs">−6</text>
<g transform="translate(2142.00 599.40) rotate(90)"><text x="-2.26" y="0.00" font-size="27.60" textLength="79.04" lengthAdjust="spacing">Killing</text></g>
<g transform="translate(2109.30 516.80) rotate(90)"><text x="-0.77" y="0.00" font-size="27.60" textLength="207.07" lengthAdjust="spacing">speed (1/killing t</text></g>
<g transform="translate(2101.10 724.90) rotate(90)"><text x="-1.49" y="0.00" font-size="19.60" textLength="26.68" lengthAdjust="spacing">1/2</text></g>
<g transform="translate(2111.50 749.90) rotate(90)"><text x="-0.16" y="0.00" font-size="26.50" textLength="9.17" lengthAdjust="spacingAndGlyphs">)</text></g>
<g transform="translate(1094.90 713.70) rotate(-90)"><text x="-2.26" y="0.00" font-size="27.60" textLength="159.34" lengthAdjust="spacing">PBMC killing</text></g>
<g transform="translate(1138.80 753.60) rotate(-90)"><text x="-0.98" y="0.00" font-size="27.60" textLength="239.36" lengthAdjust="spacing">% target cell killing</text></g>
<line x1="1220.00" y1="753.90" x2="2021.90" y2="753.90" stroke="#231f20" stroke-width="1.10"/>
<line x1="1269.70" y1="753.90" x2="1269.70" y2="764.50" stroke="#231f20" stroke-width="1.10"/>
<text x="1262.20" y="794.50" font-size="23.00" textLength="15.01" lengthAdjust="spacingAndGlyphs">0</text>
<line x1="1358.78" y1="753.90" x2="1358.78" y2="764.50" stroke="#231f20" stroke-width="1.10"/>
<text x="1352.89" y="794.50" font-size="23.00" textLength="11.22" lengthAdjust="spacingAndGlyphs">1</text>
<line x1="1447.86" y1="753.90" x2="1447.86" y2="764.50" stroke="#231f20" stroke-width="1.10"/>
<text x="1439.99" y="794.50" font-size="23.00" textLength="15.75" lengthAdjust="spacingAndGlyphs">2</text>
<line x1="1536.94" y1="753.90" x2="1536.94" y2="764.50" stroke="#231f20" stroke-width="1.10"/>
<text x="1529.90" y="794.50" font-size="23.00" textLength="14.24" lengthAdjust="spacingAndGlyphs">4</text>
<line x1="1626.02" y1="753.90" x2="1626.02" y2="764.50" stroke="#231f20" stroke-width="1.10"/>
<text x="1618.15" y="794.50" font-size="23.00" textLength="15.55" lengthAdjust="spacingAndGlyphs">6</text>
<text x="1618.52" y="829.10" font-size="23.00" textLength="15.01" lengthAdjust="spacingAndGlyphs">0</text>
<line x1="1715.10" y1="753.90" x2="1715.10" y2="764.50" stroke="#231f20" stroke-width="1.10"/>
<text x="1707.20" y="794.50" font-size="23.00" textLength="15.78" lengthAdjust="spacingAndGlyphs">7</text>
<text x="1709.21" y="829.10" font-size="23.00" textLength="11.22" lengthAdjust="spacingAndGlyphs">1</text>
<line x1="1804.18" y1="753.90" x2="1804.18" y2="764.50" stroke="#231f20" stroke-width="1.10"/>
<text x="1796.54" y="794.50" font-size="23.00" textLength="15.29" lengthAdjust="spacingAndGlyphs">8</text>
<text x="1796.31" y="829.10" font-size="23.00" textLength="15.75" lengthAdjust="spacingAndGlyphs">2</text>
<line x1="1893.26" y1="753.90" x2="1893.26" y2="764.50" stroke="#231f20" stroke-width="1.10"/>
<text x="1879.83" y="794.50" font-size="23.00" textLength="25.99" lengthAdjust="spacingAndGlyphs">10</text>
<text x="1886.22" y="829.10" font-size="23.00" textLength="14.24" lengthAdjust="spacingAndGlyphs">4</text>
<line x1="1982.34" y1="753.90" x2="1982.34" y2="764.50" stroke="#231f20" stroke-width="1.10"/>
<text x="1968.90" y="794.50" font-size="23.00" textLength="26.12" lengthAdjust="spacingAndGlyphs">16</text>
<text x="1974.70" y="829.10" font-size="23.00" textLength="15.29" lengthAdjust="spacingAndGlyphs">8</text>
<text x="1092.30" y="794.50" font-size="27.60" textLength="151.49" lengthAdjust="spacing">1st injection</text>
<text x="1078.21" y="829.10" font-size="27.60" textLength="165.58" lengthAdjust="spacing">2nd injection</text>
<text x="2014.18" y="811.80" font-size="27.60" textLength="81.82" lengthAdjust="spacing">Weeks</text>
<polygon points="191.05,493.20 194.95,493.20 194.95,503.80 199.90,501.30 193.00,517.30 186.10,501.30 191.05,503.80" fill="#3a5fab"/>
<text x="204.74" y="512.30" font-size="27.00" textLength="29.46" lengthAdjust="spacing">wt</text>
<text x="235.05" y="500.20" font-size="20.00" textLength="32.79" lengthAdjust="spacing">allo</text>
<polygon points="549.35,493.20 553.25,493.20 553.25,503.80 558.20,501.30 551.30,517.30 544.40,501.30 549.35,503.80" fill="#ec3632"/>
<text x="562.99" y="512.30" font-size="27.00" textLength="43.44" lengthAdjust="spacing">HIP</text>
<text x="606.15" y="500.20" font-size="20.00" textLength="32.49" lengthAdjust="spacing">allo</text>
<polygon points="1268.15,493.20 1272.05,493.20 1272.05,503.80 1277.00,501.30 1270.10,517.30 1263.20,501.30 1268.15,503.80" fill="#ec3632"/>
<text x="1281.69" y="512.30" font-size="27.00" textLength="43.44" lengthAdjust="spacing">HIP</text>
<text x="1324.85" y="500.20" font-size="20.00" textLength="33.29" lengthAdjust="spacing">allo</text>
<polygon points="1624.15,493.20 1628.05,493.20 1628.05,503.80 1633.00,501.30 1626.10,517.30 1619.20,501.30 1624.15,503.80" fill="#3a5fab"/>
<text x="1639.34" y="512.30" font-size="27.00" textLength="29.36" lengthAdjust="spacing">wt</text>
<text x="1668.75" y="500.20" font-size="20.00" textLength="33.09" lengthAdjust="spacing">allo</text>
<text x="0.25" y="914.06" font-size="34.50" textLength="22.00" lengthAdjust="spacingAndGlyphs" font-weight="bold" stroke="#231f20" stroke-width="1.60" stroke-linejoin="round">c</text>
<line x1="155.50" y1="940.20" x2="155.50" y2="1174.60" stroke="#231f20" stroke-width="1.10"/>
<line x1="144.20" y1="1174.10" x2="155.50" y2="1174.10" stroke="#231f20" stroke-width="1.10"/>
<text x="118.05" y="1181.30" font-size="23.00" textLength="15.01" lengthAdjust="spacingAndGlyphs">0</text>
<line x1="144.20" y1="1120.88" x2="155.50" y2="1120.88" stroke="#231f20" stroke-width="1.10"/>
<text x="103.25" y="1128.08" font-size="23.00" textLength="29.88" lengthAdjust="spacingAndGlyphs">25</text>
<line x1="144.20" y1="1067.65" x2="155.50" y2="1067.65" stroke="#231f20" stroke-width="1.10"/>
<text x="103.54" y="1074.85" font-size="23.00" textLength="29.50" lengthAdjust="spacingAndGlyphs">50</text>
<line x1="144.20" y1="1014.42" x2="155.50" y2="1014.42" stroke="#231f20" stroke-width="1.10"/>
<text x="103.22" y="1021.62" font-size="23.00" textLength="29.91" lengthAdjust="spacingAndGlyphs">75</text>
<line x1="144.20" y1="961.20" x2="155.50" y2="961.20" stroke="#231f20" stroke-width="1.10"/>
<text x="92.35" y="968.40" font-size="23.00" textLength="40.60" lengthAdjust="spacingAndGlyphs">100</text>
<line x1="858.30" y1="940.20" x2="858.30" y2="1174.60" stroke="#231f20" stroke-width="1.10"/>
<line x1="858.30" y1="940.20" x2="869.50" y2="940.20" stroke="#231f20" stroke-width="1.10"/>
<text x="881.52" y="945.70" font-size="23.00" textLength="13.06" lengthAdjust="spacingAndGlyphs">2</text>
<text x="894.63" y="933.20" font-size="17.30" textLength="6.32" lengthAdjust="spacingAndGlyphs">1</text>
<line x1="858.30" y1="971.50" x2="869.50" y2="971.50" stroke="#231f20" stroke-width="1.10"/>
<text x="881.52" y="977.40" font-size="23.00" textLength="13.06" lengthAdjust="spacingAndGlyphs">2</text>
<text x="895.06" y="964.90" font-size="17.30" textLength="10.47" lengthAdjust="spacingAndGlyphs">0</text>
<line x1="858.30" y1="1002.80" x2="869.50" y2="1002.80" stroke="#231f20" stroke-width="1.10"/>
<text x="881.52" y="1009.10" font-size="23.00" textLength="13.06" lengthAdjust="spacingAndGlyphs">2</text>
<text x="895.18" y="996.60" font-size="17.30" textLength="14.33" lengthAdjust="spacingAndGlyphs">−1</text>
<line x1="858.30" y1="1034.10" x2="869.50" y2="1034.10" stroke="#231f20" stroke-width="1.10"/>
<text x="881.52" y="1040.80" font-size="23.00" textLength="13.06" lengthAdjust="spacingAndGlyphs">2</text>
<text x="895.01" y="1028.30" font-size="17.30" textLength="18.30" lengthAdjust="spacingAndGlyphs">−2</text>
<line x1="858.30" y1="1065.40" x2="869.50" y2="1065.40" stroke="#231f20" stroke-width="1.10"/>
<text x="881.52" y="1072.50" font-size="23.00" textLength="13.06" lengthAdjust="spacingAndGlyphs">2</text>
<text x="895.01" y="1060.00" font-size="17.30" textLength="18.19" lengthAdjust="spacingAndGlyphs">−3</text>
<line x1="858.30" y1="1096.70" x2="869.50" y2="1096.70" stroke="#231f20" stroke-width="1.10"/>
<text x="881.52" y="1104.20" font-size="23.00" textLength="13.06" lengthAdjust="spacingAndGlyphs">2</text>
<text x="895.02" y="1091.70" font-size="17.30" textLength="17.94" lengthAdjust="spacingAndGlyphs">−4</text>
<line x1="858.30" y1="1128.00" x2="869.50" y2="1128.00" stroke="#231f20" stroke-width="1.10"/>
<text x="881.52" y="1135.90" font-size="23.00" textLength="13.06" lengthAdjust="spacingAndGlyphs">2</text>
<text x="895.01" y="1123.40" font-size="17.30" textLength="18.15" lengthAdjust="spacingAndGlyphs">−5</text>
<line x1="858.30" y1="1159.30" x2="869.50" y2="1159.30" stroke="#231f20" stroke-width="1.10"/>
<text x="881.52" y="1167.60" font-size="23.00" textLength="13.06" lengthAdjust="spacingAndGlyphs">2</text>
<text x="895.01" y="1155.10" font-size="17.30" textLength="18.19" lengthAdjust="spacingAndGlyphs">−6</text>
<g transform="translate(983.00 1020.00) rotate(90)"><text x="-2.26" y="0.00" font-size="27.60" textLength="79.04" lengthAdjust="spacing">Killing</text></g>
<g transform="translate(950.30 937.40) rotate(90)"><text x="-0.77" y="0.00" font-size="27.60" textLength="207.07" lengthAdjust="spacing">speed (1/killing t</text></g>
<g transform="translate(942.10 1145.50) rotate(90)"><text x="-1.49" y="0.00" font-size="19.60" textLength="26.68" lengthAdjust="spacing">1/2</text></g>
<g transform="translate(952.50 1170.50) rotate(90)"><text x="-0.16" y="0.00" font-size="26.50" textLength="9.17" lengthAdjust="spacingAndGlyphs">)</text></g>
<g transform="translate(25.90 1132.90) rotate(-90)"><text x="-0.62" y="0.00" font-size="27.60" textLength="153.20" lengthAdjust="spacing">T cell killing</text></g>
<g transform="translate(67.80 1174.30) rotate(-90)"><text x="-0.98" y="0.00" font-size="27.60" textLength="240.06" lengthAdjust="spacing">% target cell killing</text></g>
<line x1="144.10" y1="1174.10" x2="858.30" y2="1174.10" stroke="#231f20" stroke-width="1.10"/>
<line x1="194.10" y1="1174.10" x2="194.10" y2="1184.70" stroke="#231f20" stroke-width="1.10"/>
<text x="186.60" y="1214.70" font-size="23.00" textLength="15.01" lengthAdjust="spacingAndGlyphs">0</text>
<line x1="283.35" y1="1174.10" x2="283.35" y2="1184.70" stroke="#231f20" stroke-width="1.10"/>
<text x="277.46" y="1214.70" font-size="23.00" textLength="11.22" lengthAdjust="spacingAndGlyphs">1</text>
<line x1="372.60" y1="1174.10" x2="372.60" y2="1184.70" stroke="#231f20" stroke-width="1.10"/>
<text x="364.73" y="1214.70" font-size="23.00" textLength="15.75" lengthAdjust="spacingAndGlyphs">2</text>
<line x1="461.85" y1="1174.10" x2="461.85" y2="1184.70" stroke="#231f20" stroke-width="1.10"/>
<text x="454.81" y="1214.70" font-size="23.00" textLength="14.24" lengthAdjust="spacingAndGlyphs">4</text>
<line x1="551.10" y1="1174.10" x2="551.10" y2="1184.70" stroke="#231f20" stroke-width="1.10"/>
<text x="543.23" y="1214.70" font-size="23.00" textLength="15.55" lengthAdjust="spacingAndGlyphs">6</text>
<text x="543.60" y="1246.60" font-size="23.00" textLength="15.01" lengthAdjust="spacingAndGlyphs">0</text>
<line x1="640.35" y1="1174.10" x2="640.35" y2="1184.70" stroke="#231f20" stroke-width="1.10"/>
<text x="632.45" y="1214.70" font-size="23.00" textLength="15.78" lengthAdjust="spacingAndGlyphs">7</text>
<text x="634.46" y="1246.60" font-size="23.00" textLength="11.22" lengthAdjust="spacingAndGlyphs">1</text>
<line x1="729.60" y1="1174.10" x2="729.60" y2="1184.70" stroke="#231f20" stroke-width="1.10"/>
<text x="721.96" y="1214.70" font-size="23.00" textLength="15.29" lengthAdjust="spacingAndGlyphs">8</text>
<text x="721.73" y="1246.60" font-size="23.00" textLength="15.75" lengthAdjust="spacingAndGlyphs">2</text>
<line x1="818.85" y1="1174.10" x2="818.85" y2="1184.70" stroke="#231f20" stroke-width="1.10"/>
<text x="805.42" y="1214.70" font-size="23.00" textLength="25.99" lengthAdjust="spacingAndGlyphs">10</text>
<text x="811.81" y="1246.60" font-size="23.00" textLength="14.24" lengthAdjust="spacingAndGlyphs">4</text>
<text x="25.20" y="1214.70" font-size="27.60" textLength="151.79" lengthAdjust="spacing">1st injection</text>
<text x="11.21" y="1246.60" font-size="27.60" textLength="165.78" lengthAdjust="spacing">2nd injection</text>
<text x="850.28" y="1232.70" font-size="27.60" textLength="81.82" lengthAdjust="spacing">Weeks</text>
<text x="1067.70" y="914.40" font-size="36.99" textLength="25.38" lengthAdjust="spacingAndGlyphs" font-weight="bold" stroke="#231f20" stroke-width="1.60" stroke-linejoin="round">h</text>
<line x1="1231.10" y1="940.20" x2="1231.10" y2="1174.60" stroke="#231f20" stroke-width="1.10"/>
<line x1="1220.00" y1="1174.10" x2="1231.10" y2="1174.10" stroke="#231f20" stroke-width="1.10"/>
<text x="1193.75" y="1181.30" font-size="23.00" textLength="15.01" lengthAdjust="spacingAndGlyphs">0</text>
<line x1="1220.00" y1="1120.88" x2="1231.10" y2="1120.88" stroke="#231f20" stroke-width="1.10"/>
<text x="1178.95" y="1128.08" font-size="23.00" textLength="29.88" lengthAdjust="spacingAndGlyphs">25</text>
<line x1="1220.00" y1="1067.65" x2="1231.10" y2="1067.65" stroke="#231f20" stroke-width="1.10"/>
<text x="1179.24" y="1074.85" font-size="23.00" textLength="29.50" lengthAdjust="spacingAndGlyphs">50</text>
<line x1="1220.00" y1="1014.42" x2="1231.10" y2="1014.42" stroke="#231f20" stroke-width="1.10"/>
<text x="1178.92" y="1021.62" font-size="23.00" textLength="29.91" lengthAdjust="spacingAndGlyphs">75</text>
<line x1="1220.00" y1="961.20" x2="1231.10" y2="961.20" stroke="#231f20" stroke-width="1.10"/>
<text x="1168.05" y="968.40" font-size="23.00" textLength="40.60" lengthAdjust="spacingAndGlyphs">100</text>
<line x1="2021.90" y1="940.20" x2="2021.90" y2="1174.60" stroke="#231f20" stroke-width="1.10"/>
<line x1="2021.90" y1="940.20" x2="2033.10" y2="940.20" stroke="#231f20" stroke-width="1.10"/>
<text x="2045.42" y="944.70" font-size="23.00" textLength="13.06" lengthAdjust="spacingAndGlyphs">2</text>
<text x="2058.53" y="932.20" font-size="17.30" textLength="6.32" lengthAdjust="spacingAndGlyphs">1</text>
<line x1="2021.90" y1="971.50" x2="2033.10" y2="971.50" stroke="#231f20" stroke-width="1.10"/>
<text x="2045.42" y="976.40" font-size="23.00" textLength="13.06" lengthAdjust="spacingAndGlyphs">2</text>
<text x="2058.96" y="963.90" font-size="17.30" textLength="10.47" lengthAdjust="spacingAndGlyphs">0</text>
<line x1="2021.90" y1="1002.80" x2="2033.10" y2="1002.80" stroke="#231f20" stroke-width="1.10"/>
<text x="2045.42" y="1008.10" font-size="23.00" textLength="13.06" lengthAdjust="spacingAndGlyphs">2</text>
<text x="2059.08" y="995.60" font-size="17.30" textLength="14.33" lengthAdjust="spacingAndGlyphs">−1</text>
<line x1="2021.90" y1="1034.10" x2="2033.10" y2="1034.10" stroke="#231f20" stroke-width="1.10"/>
<text x="2045.42" y="1039.80" font-size="23.00" textLength="13.06" lengthAdjust="spacingAndGlyphs">2</text>
<text x="2058.91" y="1027.30" font-size="17.30" textLength="18.30" lengthAdjust="spacingAndGlyphs">−2</text>
<line x1="2021.90" y1="1065.40" x2="2033.10" y2="1065.40" stroke="#231f20" stroke-width="1.10"/>
<text x="2045.42" y="1071.50" font-size="23.00" textLength="13.06" lengthAdjust="spacingAndGlyphs">2</text>
<text x="2058.91" y="1059.00" font-size="17.30" textLength="18.19" lengthAdjust="spacingAndGlyphs">−3</text>
<line x1="2021.90" y1="1096.70" x2="2033.10" y2="1096.70" stroke="#231f20" stroke-width="1.10"/>
<text x="2045.42" y="1103.20" font-size="23.00" textLength="13.06" lengthAdjust="spacingAndGlyphs">2</text>
<text x="2058.92" y="1090.70" font-size="17.30" textLength="17.94" lengthAdjust="spacingAndGlyphs">−4</text>
<line x1="2021.90" y1="1128.00" x2="2033.10" y2="1128.00" stroke="#231f20" stroke-width="1.10"/>
<text x="2045.42" y="1134.90" font-size="23.00" textLength="13.06" lengthAdjust="spacingAndGlyphs">2</text>
<text x="2058.91" y="1122.40" font-size="17.30" textLength="18.15" lengthAdjust="spacingAndGlyphs">−5</text>
<line x1="2021.90" y1="1159.30" x2="2033.10" y2="1159.30" stroke="#231f20" stroke-width="1.10"/>
<text x="2045.42" y="1166.60" font-size="23.00" textLength="13.06" lengthAdjust="spacingAndGlyphs">2</text>
<text x="2058.91" y="1154.10" font-size="17.30" textLength="18.19" lengthAdjust="spacingAndGlyphs">−6</text>
<g transform="translate(2142.00 1020.00) rotate(90)"><text x="-2.26" y="0.00" font-size="27.60" textLength="79.04" lengthAdjust="spacing">Killing</text></g>
<g transform="translate(2109.30 937.40) rotate(90)"><text x="-0.77" y="0.00" font-size="27.60" textLength="207.07" lengthAdjust="spacing">speed (1/killing t</text></g>
<g transform="translate(2101.10 1145.50) rotate(90)"><text x="-1.49" y="0.00" font-size="19.60" textLength="26.68" lengthAdjust="spacing">1/2</text></g>
<g transform="translate(2111.50 1170.50) rotate(90)"><text x="-0.16" y="0.00" font-size="26.50" textLength="9.17" lengthAdjust="spacingAndGlyphs">)</text></g>
<g transform="translate(1094.90 1132.90) rotate(-90)"><text x="-0.62" y="0.00" font-size="27.60" textLength="153.20" lengthAdjust="spacing">T cell killing</text></g>
<g transform="translate(1138.80 1174.30) rotate(-90)"><text x="-0.98" y="0.00" font-size="27.60" textLength="240.06" lengthAdjust="spacing">% target cell killing</text></g>
<line x1="1220.00" y1="1174.10" x2="2021.90" y2="1174.10" stroke="#231f20" stroke-width="1.10"/>
<line x1="1269.70" y1="1174.10" x2="1269.70" y2="1184.70" stroke="#231f20" stroke-width="1.10"/>
<text x="1262.20" y="1214.50" font-size="23.00" textLength="15.01" lengthAdjust="spacingAndGlyphs">0</text>
<line x1="1358.78" y1="1174.10" x2="1358.78" y2="1184.70" stroke="#231f20" stroke-width="1.10"/>
<text x="1352.89" y="1214.50" font-size="23.00" textLength="11.22" lengthAdjust="spacingAndGlyphs">1</text>
<line x1="1447.86" y1="1174.10" x2="1447.86" y2="1184.70" stroke="#231f20" stroke-width="1.10"/>
<text x="1439.99" y="1214.50" font-size="23.00" textLength="15.75" lengthAdjust="spacingAndGlyphs">2</text>
<line x1="1536.94" y1="1174.10" x2="1536.94" y2="1184.70" stroke="#231f20" stroke-width="1.10"/>
<text x="1529.90" y="1214.50" font-size="23.00" textLength="14.24" lengthAdjust="spacingAndGlyphs">4</text>
<line x1="1626.02" y1="1174.10" x2="1626.02" y2="1184.70" stroke="#231f20" stroke-width="1.10"/>
<text x="1618.15" y="1214.50" font-size="23.00" textLength="15.55" lengthAdjust="spacingAndGlyphs">6</text>
<text x="1618.52" y="1250.60" font-size="23.00" textLength="15.01" lengthAdjust="spacingAndGlyphs">0</text>
<line x1="1715.10" y1="1174.10" x2="1715.10" y2="1184.70" stroke="#231f20" stroke-width="1.10"/>
<text x="1707.20" y="1214.50" font-size="23.00" textLength="15.78" lengthAdjust="spacingAndGlyphs">7</text>
<text x="1709.21" y="1250.60" font-size="23.00" textLength="11.22" lengthAdjust="spacingAndGlyphs">1</text>
<line x1="1804.18" y1="1174.10" x2="1804.18" y2="1184.70" stroke="#231f20" stroke-width="1.10"/>
<text x="1796.54" y="1214.50" font-size="23.00" textLength="15.29" lengthAdjust="spacingAndGlyphs">8</text>
<text x="1796.31" y="1250.60" font-size="23.00" textLength="15.75" lengthAdjust="spacingAndGlyphs">2</text>
<line x1="1893.26" y1="1174.10" x2="1893.26" y2="1184.70" stroke="#231f20" stroke-width="1.10"/>
<text x="1879.83" y="1214.50" font-size="23.00" textLength="25.99" lengthAdjust="spacingAndGlyphs">10</text>
<text x="1886.22" y="1250.60" font-size="23.00" textLength="14.24" lengthAdjust="spacingAndGlyphs">4</text>
<line x1="1982.34" y1="1174.10" x2="1982.34" y2="1184.70" stroke="#231f20" stroke-width="1.10"/>
<text x="1968.90" y="1214.50" font-size="23.00" textLength="26.12" lengthAdjust="spacingAndGlyphs">16</text>
<text x="1974.70" y="1250.60" font-size="23.00" textLength="15.29" lengthAdjust="spacingAndGlyphs">8</text>
<text x="1092.30" y="1214.50" font-size="27.60" textLength="151.49" lengthAdjust="spacing">1st injection</text>
<text x="1078.21" y="1250.60" font-size="27.60" textLength="165.58" lengthAdjust="spacing">2nd injection</text>
<text x="2014.18" y="1234.70" font-size="27.60" textLength="81.82" lengthAdjust="spacing">Weeks</text>
<polygon points="191.05,914.20 194.95,914.20 194.95,924.80 199.90,922.30 193.00,938.30 186.10,922.30 191.05,924.80" fill="#3a5fab"/>
<text x="204.74" y="933.30" font-size="27.00" textLength="29.46" lengthAdjust="spacing">wt</text>
<text x="235.05" y="921.20" font-size="20.00" textLength="32.79" lengthAdjust="spacing">allo</text>
<polygon points="551.65,914.20 555.55,914.20 555.55,924.80 560.50,922.30 553.60,938.30 546.70,922.30 551.65,924.80" fill="#ec3632"/>
<text x="562.79" y="933.30" font-size="27.00" textLength="43.24" lengthAdjust="spacing">HIP</text>
<text x="605.15" y="921.20" font-size="20.00" textLength="32.79" lengthAdjust="spacing">allo</text>
<polygon points="1268.15,914.20 1272.05,914.20 1272.05,924.80 1277.00,922.30 1270.10,938.30 1263.20,922.30 1268.15,924.80" fill="#ec3632"/>
<text x="1281.69" y="933.30" font-size="27.00" textLength="43.44" lengthAdjust="spacing">HIP</text>
<text x="1324.85" y="921.20" font-size="20.00" textLength="33.29" lengthAdjust="spacing">allo</text>
<polygon points="1624.15,914.20 1628.05,914.20 1628.05,924.80 1633.00,922.30 1626.10,938.30 1619.20,922.30 1624.15,924.80" fill="#3a5fab"/>
<text x="1639.34" y="933.30" font-size="27.00" textLength="29.36" lengthAdjust="spacing">wt</text>
<text x="1668.75" y="921.20" font-size="20.00" textLength="33.09" lengthAdjust="spacing">allo</text>
<text x="0.10" y="1336.04" font-size="36.49" textLength="25.34" lengthAdjust="spacingAndGlyphs" font-weight="bold" stroke="#231f20" stroke-width="1.60" stroke-linejoin="round">d</text>
<line x1="155.50" y1="1356.70" x2="155.50" y2="1591.00" stroke="#231f20" stroke-width="1.10"/>
<line x1="144.20" y1="1590.50" x2="155.50" y2="1590.50" stroke="#231f20" stroke-width="1.10"/>
<text x="118.05" y="1597.70" font-size="23.00" textLength="15.01" lengthAdjust="spacingAndGlyphs">0</text>
<line x1="144.20" y1="1537.30" x2="155.50" y2="1537.30" stroke="#231f20" stroke-width="1.10"/>
<text x="103.25" y="1544.50" font-size="23.00" textLength="29.88" lengthAdjust="spacingAndGlyphs">25</text>
<line x1="144.20" y1="1484.10" x2="155.50" y2="1484.10" stroke="#231f20" stroke-width="1.10"/>
<text x="103.54" y="1491.30" font-size="23.00" textLength="29.50" lengthAdjust="spacingAndGlyphs">50</text>
<line x1="144.20" y1="1430.90" x2="155.50" y2="1430.90" stroke="#231f20" stroke-width="1.10"/>
<text x="103.22" y="1438.10" font-size="23.00" textLength="29.91" lengthAdjust="spacingAndGlyphs">75</text>
<line x1="144.20" y1="1377.70" x2="155.50" y2="1377.70" stroke="#231f20" stroke-width="1.10"/>
<text x="92.35" y="1384.90" font-size="23.00" textLength="40.60" lengthAdjust="spacingAndGlyphs">100</text>
<line x1="858.30" y1="1356.70" x2="858.30" y2="1591.00" stroke="#231f20" stroke-width="1.10"/>
<line x1="858.30" y1="1356.70" x2="869.50" y2="1356.70" stroke="#231f20" stroke-width="1.10"/>
<text x="880.82" y="1363.30" font-size="23.00" textLength="13.06" lengthAdjust="spacingAndGlyphs">2</text>
<text x="893.93" y="1350.80" font-size="17.30" textLength="6.32" lengthAdjust="spacingAndGlyphs">1</text>
<line x1="858.30" y1="1388.00" x2="869.50" y2="1388.00" stroke="#231f20" stroke-width="1.10"/>
<text x="880.82" y="1395.00" font-size="23.00" textLength="13.06" lengthAdjust="spacingAndGlyphs">2</text>
<text x="894.36" y="1382.50" font-size="17.30" textLength="10.47" lengthAdjust="spacingAndGlyphs">0</text>
<line x1="858.30" y1="1419.30" x2="869.50" y2="1419.30" stroke="#231f20" stroke-width="1.10"/>
<text x="880.82" y="1426.70" font-size="23.00" textLength="13.06" lengthAdjust="spacingAndGlyphs">2</text>
<text x="894.48" y="1414.20" font-size="17.30" textLength="14.33" lengthAdjust="spacingAndGlyphs">−1</text>
<line x1="858.30" y1="1450.60" x2="869.50" y2="1450.60" stroke="#231f20" stroke-width="1.10"/>
<text x="880.82" y="1458.40" font-size="23.00" textLength="13.06" lengthAdjust="spacingAndGlyphs">2</text>
<text x="894.31" y="1445.90" font-size="17.30" textLength="18.30" lengthAdjust="spacingAndGlyphs">−2</text>
<line x1="858.30" y1="1481.90" x2="869.50" y2="1481.90" stroke="#231f20" stroke-width="1.10"/>
<text x="880.82" y="1490.10" font-size="23.00" textLength="13.06" lengthAdjust="spacingAndGlyphs">2</text>
<text x="894.31" y="1477.60" font-size="17.30" textLength="18.19" lengthAdjust="spacingAndGlyphs">−3</text>
<line x1="858.30" y1="1513.20" x2="869.50" y2="1513.20" stroke="#231f20" stroke-width="1.10"/>
<text x="880.82" y="1521.80" font-size="23.00" textLength="13.06" lengthAdjust="spacingAndGlyphs">2</text>
<text x="894.32" y="1509.30" font-size="17.30" textLength="17.94" lengthAdjust="spacingAndGlyphs">−4</text>
<line x1="858.30" y1="1544.50" x2="869.50" y2="1544.50" stroke="#231f20" stroke-width="1.10"/>
<text x="880.82" y="1553.50" font-size="23.00" textLength="13.06" lengthAdjust="spacingAndGlyphs">2</text>
<text x="894.31" y="1541.00" font-size="17.30" textLength="18.15" lengthAdjust="spacingAndGlyphs">−5</text>
<line x1="858.30" y1="1575.80" x2="869.50" y2="1575.80" stroke="#231f20" stroke-width="1.10"/>
<text x="880.82" y="1585.20" font-size="23.00" textLength="13.06" lengthAdjust="spacingAndGlyphs">2</text>
<text x="894.31" y="1572.70" font-size="17.30" textLength="18.19" lengthAdjust="spacingAndGlyphs">−6</text>
<g transform="translate(983.00 1436.50) rotate(90)"><text x="-2.26" y="0.00" font-size="27.60" textLength="79.04" lengthAdjust="spacing">Killing</text></g>
<g transform="translate(950.30 1353.90) rotate(90)"><text x="-0.77" y="0.00" font-size="27.60" textLength="207.07" lengthAdjust="spacing">speed (1/killing t</text></g>
<g transform="translate(942.10 1562.00) rotate(90)"><text x="-1.49" y="0.00" font-size="19.60" textLength="26.68" lengthAdjust="spacing">1/2</text></g>
<g transform="translate(952.50 1587.00) rotate(90)"><text x="-0.16" y="0.00" font-size="26.50" textLength="9.17" lengthAdjust="spacingAndGlyphs">)</text></g>
<g transform="translate(25.90 1559.00) rotate(-90)"><text x="-2.26" y="0.00" font-size="27.60" textLength="174.04" lengthAdjust="spacing">NK cell killing</text></g>
<g transform="translate(67.80 1590.80) rotate(-90)"><text x="-0.98" y="0.00" font-size="27.60" textLength="239.36" lengthAdjust="spacing">% target cell killing</text></g>
<line x1="144.10" y1="1590.50" x2="858.30" y2="1590.50" stroke="#231f20" stroke-width="1.10"/>
<line x1="194.10" y1="1590.50" x2="194.10" y2="1601.10" stroke="#231f20" stroke-width="1.10"/>
<text x="186.60" y="1631.30" font-size="23.00" textLength="15.01" lengthAdjust="spacingAndGlyphs">0</text>
<line x1="283.35" y1="1590.50" x2="283.35" y2="1601.10" stroke="#231f20" stroke-width="1.10"/>
<text x="277.46" y="1631.30" font-size="23.00" textLength="11.22" lengthAdjust="spacingAndGlyphs">1</text>
<line x1="372.60" y1="1590.50" x2="372.60" y2="1601.10" stroke="#231f20" stroke-width="1.10"/>
<text x="364.73" y="1631.30" font-size="23.00" textLength="15.75" lengthAdjust="spacingAndGlyphs">2</text>
<line x1="461.85" y1="1590.50" x2="461.85" y2="1601.10" stroke="#231f20" stroke-width="1.10"/>
<text x="454.81" y="1631.30" font-size="23.00" textLength="14.24" lengthAdjust="spacingAndGlyphs">4</text>
<line x1="551.10" y1="1590.50" x2="551.10" y2="1601.10" stroke="#231f20" stroke-width="1.10"/>
<text x="543.23" y="1631.30" font-size="23.00" textLength="15.55" lengthAdjust="spacingAndGlyphs">6</text>
<text x="543.60" y="1668.00" font-size="23.00" textLength="15.01" lengthAdjust="spacingAndGlyphs">0</text>
<line x1="640.35" y1="1590.50" x2="640.35" y2="1601.10" stroke="#231f20" stroke-width="1.10"/>
<text x="632.45" y="1631.30" font-size="23.00" textLength="15.78" lengthAdjust="spacingAndGlyphs">7</text>
<text x="634.46" y="1668.00" font-size="23.00" textLength="11.22" lengthAdjust="spacingAndGlyphs">1</text>
<line x1="729.60" y1="1590.50" x2="729.60" y2="1601.10" stroke="#231f20" stroke-width="1.10"/>
<text x="721.96" y="1631.30" font-size="23.00" textLength="15.29" lengthAdjust="spacingAndGlyphs">8</text>
<text x="721.73" y="1668.00" font-size="23.00" textLength="15.75" lengthAdjust="spacingAndGlyphs">2</text>
<line x1="818.85" y1="1590.50" x2="818.85" y2="1601.10" stroke="#231f20" stroke-width="1.10"/>
<text x="805.42" y="1631.30" font-size="23.00" textLength="25.99" lengthAdjust="spacingAndGlyphs">10</text>
<text x="811.81" y="1668.00" font-size="23.00" textLength="14.24" lengthAdjust="spacingAndGlyphs">4</text>
<text x="25.20" y="1631.30" font-size="27.60" textLength="151.79" lengthAdjust="spacing">1st injection</text>
<text x="11.21" y="1668.00" font-size="27.60" textLength="165.78" lengthAdjust="spacing">2nd injection</text>
<text x="850.28" y="1648.50" font-size="27.60" textLength="81.82" lengthAdjust="spacing">Weeks</text>
<text x="1067.24" y="1335.40" font-size="36.99" textLength="13.36" lengthAdjust="spacingAndGlyphs" font-weight="bold" stroke="#231f20" stroke-width="1.60" stroke-linejoin="round">i</text>
<line x1="1231.10" y1="1356.70" x2="1231.10" y2="1591.00" stroke="#231f20" stroke-width="1.10"/>
<line x1="1220.00" y1="1590.50" x2="1231.10" y2="1590.50" stroke="#231f20" stroke-width="1.10"/>
<text x="1193.75" y="1597.70" font-size="23.00" textLength="15.01" lengthAdjust="spacingAndGlyphs">0</text>
<line x1="1220.00" y1="1537.30" x2="1231.10" y2="1537.30" stroke="#231f20" stroke-width="1.10"/>
<text x="1178.95" y="1544.50" font-size="23.00" textLength="29.88" lengthAdjust="spacingAndGlyphs">25</text>
<line x1="1220.00" y1="1484.10" x2="1231.10" y2="1484.10" stroke="#231f20" stroke-width="1.10"/>
<text x="1179.24" y="1491.30" font-size="23.00" textLength="29.50" lengthAdjust="spacingAndGlyphs">50</text>
<line x1="1220.00" y1="1430.90" x2="1231.10" y2="1430.90" stroke="#231f20" stroke-width="1.10"/>
<text x="1178.92" y="1438.10" font-size="23.00" textLength="29.91" lengthAdjust="spacingAndGlyphs">75</text>
<line x1="1220.00" y1="1377.70" x2="1231.10" y2="1377.70" stroke="#231f20" stroke-width="1.10"/>
<text x="1168.05" y="1384.90" font-size="23.00" textLength="40.60" lengthAdjust="spacingAndGlyphs">100</text>
<line x1="2021.90" y1="1356.70" x2="2021.90" y2="1591.00" stroke="#231f20" stroke-width="1.10"/>
<line x1="2021.90" y1="1356.70" x2="2033.10" y2="1356.70" stroke="#231f20" stroke-width="1.10"/>
<text x="2046.52" y="1362.00" font-size="23.00" textLength="13.06" lengthAdjust="spacingAndGlyphs">2</text>
<text x="2059.63" y="1349.50" font-size="17.30" textLength="6.32" lengthAdjust="spacingAndGlyphs">1</text>
<line x1="2021.90" y1="1388.00" x2="2033.10" y2="1388.00" stroke="#231f20" stroke-width="1.10"/>
<text x="2046.52" y="1393.70" font-size="23.00" textLength="13.06" lengthAdjust="spacingAndGlyphs">2</text>
<text x="2060.06" y="1381.20" font-size="17.30" textLength="10.47" lengthAdjust="spacingAndGlyphs">0</text>
<line x1="2021.90" y1="1419.30" x2="2033.10" y2="1419.30" stroke="#231f20" stroke-width="1.10"/>
<text x="2046.52" y="1425.40" font-size="23.00" textLength="13.06" lengthAdjust="spacingAndGlyphs">2</text>
<text x="2060.18" y="1412.90" font-size="17.30" textLength="14.33" lengthAdjust="spacingAndGlyphs">−1</text>
<line x1="2021.90" y1="1450.60" x2="2033.10" y2="1450.60" stroke="#231f20" stroke-width="1.10"/>
<text x="2046.52" y="1457.10" font-size="23.00" textLength="13.06" lengthAdjust="spacingAndGlyphs">2</text>
<text x="2060.01" y="1444.60" font-size="17.30" textLength="18.30" lengthAdjust="spacingAndGlyphs">−2</text>
<line x1="2021.90" y1="1481.90" x2="2033.10" y2="1481.90" stroke="#231f20" stroke-width="1.10"/>
<text x="2046.52" y="1488.80" font-size="23.00" textLength="13.06" lengthAdjust="spacingAndGlyphs">2</text>
<text x="2060.01" y="1476.30" font-size="17.30" textLength="18.19" lengthAdjust="spacingAndGlyphs">−3</text>
<line x1="2021.90" y1="1513.20" x2="2033.10" y2="1513.20" stroke="#231f20" stroke-width="1.10"/>
<text x="2046.52" y="1520.50" font-size="23.00" textLength="13.06" lengthAdjust="spacingAndGlyphs">2</text>
<text x="2060.02" y="1508.00" font-size="17.30" textLength="17.94" lengthAdjust="spacingAndGlyphs">−4</text>
<line x1="2021.90" y1="1544.50" x2="2033.10" y2="1544.50" stroke="#231f20" stroke-width="1.10"/>
<text x="2046.52" y="1552.20" font-size="23.00" textLength="13.06" lengthAdjust="spacingAndGlyphs">2</text>
<text x="2060.01" y="1539.70" font-size="17.30" textLength="18.15" lengthAdjust="spacingAndGlyphs">−5</text>
<line x1="2021.90" y1="1575.80" x2="2033.10" y2="1575.80" stroke="#231f20" stroke-width="1.10"/>
<text x="2046.52" y="1583.90" font-size="23.00" textLength="13.06" lengthAdjust="spacingAndGlyphs">2</text>
<text x="2060.01" y="1571.40" font-size="17.30" textLength="18.19" lengthAdjust="spacingAndGlyphs">−6</text>
<g transform="translate(2142.00 1436.50) rotate(90)"><text x="-2.26" y="0.00" font-size="27.60" textLength="79.04" lengthAdjust="spacing">Killing</text></g>
<g transform="translate(2109.30 1353.90) rotate(90)"><text x="-0.77" y="0.00" font-size="27.60" textLength="207.07" lengthAdjust="spacing">speed (1/killing t</text></g>
<g transform="translate(2101.10 1562.00) rotate(90)"><text x="-1.49" y="0.00" font-size="19.60" textLength="26.68" lengthAdjust="spacing">1/2</text></g>
<g transform="translate(2111.50 1587.00) rotate(90)"><text x="-0.16" y="0.00" font-size="26.50" textLength="9.17" lengthAdjust="spacingAndGlyphs">)</text></g>
<g transform="translate(1094.90 1559.00) rotate(-90)"><text x="-2.26" y="0.00" font-size="27.60" textLength="174.04" lengthAdjust="spacing">NK cell killing</text></g>
<g transform="translate(1138.80 1590.80) rotate(-90)"><text x="-0.98" y="0.00" font-size="27.60" textLength="239.36" lengthAdjust="spacing">% target cell killing</text></g>
<line x1="1220.00" y1="1590.50" x2="2021.90" y2="1590.50" stroke="#231f20" stroke-width="1.10"/>
<line x1="1269.70" y1="1590.50" x2="1269.70" y2="1601.10" stroke="#231f20" stroke-width="1.10"/>
<text x="1262.20" y="1631.30" font-size="23.00" textLength="15.01" lengthAdjust="spacingAndGlyphs">0</text>
<line x1="1358.78" y1="1590.50" x2="1358.78" y2="1601.10" stroke="#231f20" stroke-width="1.10"/>
<text x="1352.89" y="1631.30" font-size="23.00" textLength="11.22" lengthAdjust="spacingAndGlyphs">1</text>
<line x1="1447.86" y1="1590.50" x2="1447.86" y2="1601.10" stroke="#231f20" stroke-width="1.10"/>
<text x="1439.99" y="1631.30" font-size="23.00" textLength="15.75" lengthAdjust="spacingAndGlyphs">2</text>
<line x1="1536.94" y1="1590.50" x2="1536.94" y2="1601.10" stroke="#231f20" stroke-width="1.10"/>
<text x="1529.90" y="1631.30" font-size="23.00" textLength="14.24" lengthAdjust="spacingAndGlyphs">4</text>
<line x1="1626.02" y1="1590.50" x2="1626.02" y2="1601.10" stroke="#231f20" stroke-width="1.10"/>
<text x="1618.15" y="1631.30" font-size="23.00" textLength="15.55" lengthAdjust="spacingAndGlyphs">6</text>
<text x="1618.52" y="1665.60" font-size="23.00" textLength="15.01" lengthAdjust="spacingAndGlyphs">0</text>
<line x1="1715.10" y1="1590.50" x2="1715.10" y2="1601.10" stroke="#231f20" stroke-width="1.10"/>
<text x="1707.20" y="1631.30" font-size="23.00" textLength="15.78" lengthAdjust="spacingAndGlyphs">7</text>
<text x="1709.21" y="1665.60" font-size="23.00" textLength="11.22" lengthAdjust="spacingAndGlyphs">1</text>
<line x1="1804.18" y1="1590.50" x2="1804.18" y2="1601.10" stroke="#231f20" stroke-width="1.10"/>
<text x="1796.54" y="1631.30" font-size="23.00" textLength="15.29" lengthAdjust="spacingAndGlyphs">8</text>
<text x="1796.31" y="1665.60" font-size="23.00" textLength="15.75" lengthAdjust="spacingAndGlyphs">2</text>
<line x1="1893.26" y1="1590.50" x2="1893.26" y2="1601.10" stroke="#231f20" stroke-width="1.10"/>
<text x="1879.83" y="1631.30" font-size="23.00" textLength="25.99" lengthAdjust="spacingAndGlyphs">10</text>
<text x="1886.22" y="1665.60" font-size="23.00" textLength="14.24" lengthAdjust="spacingAndGlyphs">4</text>
<line x1="1982.34" y1="1590.50" x2="1982.34" y2="1601.10" stroke="#231f20" stroke-width="1.10"/>
<text x="1968.90" y="1631.30" font-size="23.00" textLength="26.12" lengthAdjust="spacingAndGlyphs">16</text>
<text x="1974.70" y="1665.60" font-size="23.00" textLength="15.29" lengthAdjust="spacingAndGlyphs">8</text>
<text x="1092.30" y="1631.30" font-size="27.60" textLength="151.49" lengthAdjust="spacing">1st injection</text>
<text x="1078.21" y="1665.60" font-size="27.60" textLength="165.58" lengthAdjust="spacing">2nd injection</text>
<text x="2014.18" y="1650.50" font-size="27.60" textLength="81.82" lengthAdjust="spacing">Weeks</text>
<polygon points="191.05,1333.60 194.95,1333.60 194.95,1344.20 199.90,1341.70 193.00,1357.70 186.10,1341.70 191.05,1344.20" fill="#3a5fab"/>
<text x="204.74" y="1352.70" font-size="27.00" textLength="29.46" lengthAdjust="spacing">wt</text>
<text x="235.05" y="1340.60" font-size="20.00" textLength="32.79" lengthAdjust="spacing">allo</text>
<polygon points="549.35,1333.60 553.25,1333.60 553.25,1344.20 558.20,1341.70 551.30,1357.70 544.40,1341.70 549.35,1344.20" fill="#ec3632"/>
<text x="562.99" y="1352.70" font-size="27.00" textLength="43.44" lengthAdjust="spacing">HIP</text>
<text x="606.15" y="1340.60" font-size="20.00" textLength="32.49" lengthAdjust="spacing">allo</text>
<polygon points="1268.15,1333.60 1272.05,1333.60 1272.05,1344.20 1277.00,1341.70 1270.10,1357.70 1263.20,1341.70 1268.15,1344.20" fill="#ec3632"/>
<text x="1281.69" y="1352.70" font-size="27.00" textLength="43.44" lengthAdjust="spacing">HIP</text>
<text x="1324.85" y="1340.60" font-size="20.00" textLength="33.29" lengthAdjust="spacing">allo</text>
<polygon points="1624.15,1333.60 1628.05,1333.60 1628.05,1344.20 1633.00,1341.70 1626.10,1357.70 1619.20,1341.70 1624.15,1344.20" fill="#3a5fab"/>
<text x="1639.34" y="1352.70" font-size="27.00" textLength="29.36" lengthAdjust="spacing">wt</text>
<text x="1668.75" y="1340.60" font-size="20.00" textLength="33.09" lengthAdjust="spacing">allo</text>
<text x="0.19" y="1750.15" font-size="36.32" textLength="22.92" lengthAdjust="spacingAndGlyphs" font-weight="bold" stroke="#231f20" stroke-width="1.60" stroke-linejoin="round">e</text>
<line x1="155.50" y1="1772.80" x2="155.50" y2="2007.40" stroke="#231f20" stroke-width="1.10"/>
<line x1="144.20" y1="2006.90" x2="155.50" y2="2006.90" stroke="#231f20" stroke-width="1.10"/>
<text x="118.05" y="2014.10" font-size="23.00" textLength="15.01" lengthAdjust="spacingAndGlyphs">0</text>
<line x1="144.20" y1="1953.60" x2="155.50" y2="1953.60" stroke="#231f20" stroke-width="1.10"/>
<text x="103.25" y="1960.80" font-size="23.00" textLength="29.88" lengthAdjust="spacingAndGlyphs">25</text>
<line x1="144.20" y1="1900.30" x2="155.50" y2="1900.30" stroke="#231f20" stroke-width="1.10"/>
<text x="103.54" y="1907.50" font-size="23.00" textLength="29.50" lengthAdjust="spacingAndGlyphs">50</text>
<line x1="144.20" y1="1847.00" x2="155.50" y2="1847.00" stroke="#231f20" stroke-width="1.10"/>
<text x="103.22" y="1854.20" font-size="23.00" textLength="29.91" lengthAdjust="spacingAndGlyphs">75</text>
<line x1="144.20" y1="1793.70" x2="155.50" y2="1793.70" stroke="#231f20" stroke-width="1.10"/>
<text x="92.35" y="1800.90" font-size="23.00" textLength="40.60" lengthAdjust="spacingAndGlyphs">100</text>
<line x1="858.30" y1="1772.80" x2="858.30" y2="2007.40" stroke="#231f20" stroke-width="1.10"/>
<line x1="858.30" y1="1772.80" x2="869.50" y2="1772.80" stroke="#231f20" stroke-width="1.10"/>
<text x="881.02" y="1779.00" font-size="23.00" textLength="13.06" lengthAdjust="spacingAndGlyphs">2</text>
<text x="894.13" y="1766.50" font-size="17.30" textLength="6.32" lengthAdjust="spacingAndGlyphs">1</text>
<line x1="858.30" y1="1804.10" x2="869.50" y2="1804.10" stroke="#231f20" stroke-width="1.10"/>
<text x="881.02" y="1810.70" font-size="23.00" textLength="13.06" lengthAdjust="spacingAndGlyphs">2</text>
<text x="894.56" y="1798.20" font-size="17.30" textLength="10.47" lengthAdjust="spacingAndGlyphs">0</text>
<line x1="858.30" y1="1835.40" x2="869.50" y2="1835.40" stroke="#231f20" stroke-width="1.10"/>
<text x="881.02" y="1842.40" font-size="23.00" textLength="13.06" lengthAdjust="spacingAndGlyphs">2</text>
<text x="894.68" y="1829.90" font-size="17.30" textLength="14.33" lengthAdjust="spacingAndGlyphs">−1</text>
<line x1="858.30" y1="1866.70" x2="869.50" y2="1866.70" stroke="#231f20" stroke-width="1.10"/>
<text x="881.02" y="1874.10" font-size="23.00" textLength="13.06" lengthAdjust="spacingAndGlyphs">2</text>
<text x="894.51" y="1861.60" font-size="17.30" textLength="18.30" lengthAdjust="spacingAndGlyphs">−2</text>
<line x1="858.30" y1="1898.00" x2="869.50" y2="1898.00" stroke="#231f20" stroke-width="1.10"/>
<text x="881.02" y="1905.80" font-size="23.00" textLength="13.06" lengthAdjust="spacingAndGlyphs">2</text>
<text x="894.51" y="1893.30" font-size="17.30" textLength="18.19" lengthAdjust="spacingAndGlyphs">−3</text>
<line x1="858.30" y1="1929.30" x2="869.50" y2="1929.30" stroke="#231f20" stroke-width="1.10"/>
<text x="881.02" y="1937.50" font-size="23.00" textLength="13.06" lengthAdjust="spacingAndGlyphs">2</text>
<text x="894.52" y="1925.00" font-size="17.30" textLength="17.94" lengthAdjust="spacingAndGlyphs">−4</text>
<line x1="858.30" y1="1960.60" x2="869.50" y2="1960.60" stroke="#231f20" stroke-width="1.10"/>
<text x="881.02" y="1969.20" font-size="23.00" textLength="13.06" lengthAdjust="spacingAndGlyphs">2</text>
<text x="894.51" y="1956.70" font-size="17.30" textLength="18.15" lengthAdjust="spacingAndGlyphs">−5</text>
<line x1="858.30" y1="1991.90" x2="869.50" y2="1991.90" stroke="#231f20" stroke-width="1.10"/>
<text x="881.02" y="2000.90" font-size="23.00" textLength="13.06" lengthAdjust="spacingAndGlyphs">2</text>
<text x="894.51" y="1988.40" font-size="17.30" textLength="18.19" lengthAdjust="spacingAndGlyphs">−6</text>
<g transform="translate(983.00 1852.60) rotate(90)"><text x="-2.26" y="0.00" font-size="27.60" textLength="79.04" lengthAdjust="spacing">Killing</text></g>
<g transform="translate(950.30 1770.00) rotate(90)"><text x="-0.77" y="0.00" font-size="27.60" textLength="207.07" lengthAdjust="spacing">speed (1/killing t</text></g>
<g transform="translate(942.10 1978.10) rotate(90)"><text x="-1.49" y="0.00" font-size="19.60" textLength="26.68" lengthAdjust="spacing">1/2</text></g>
<g transform="translate(952.50 2003.10) rotate(90)"><text x="-0.16" y="0.00" font-size="26.50" textLength="9.17" lengthAdjust="spacingAndGlyphs">)</text></g>
<g transform="translate(25.70 2010.30) rotate(-90)"><text x="-2.26" y="0.00" font-size="27.60" textLength="243.64" lengthAdjust="spacing">Macrophage killing</text></g>
<g transform="translate(67.60 2008.00) rotate(-90)"><text x="-0.98" y="0.00" font-size="27.60" textLength="240.06" lengthAdjust="spacing">% target cell killing</text></g>
<line x1="144.10" y1="2006.90" x2="858.30" y2="2006.90" stroke="#231f20" stroke-width="1.10"/>
<line x1="194.10" y1="2006.90" x2="194.10" y2="2017.50" stroke="#231f20" stroke-width="1.10"/>
<text x="186.60" y="2047.30" font-size="23.00" textLength="15.01" lengthAdjust="spacingAndGlyphs">0</text>
<line x1="283.35" y1="2006.90" x2="283.35" y2="2017.50" stroke="#231f20" stroke-width="1.10"/>
<text x="277.46" y="2047.30" font-size="23.00" textLength="11.22" lengthAdjust="spacingAndGlyphs">1</text>
<line x1="372.60" y1="2006.90" x2="372.60" y2="2017.50" stroke="#231f20" stroke-width="1.10"/>
<text x="364.73" y="2047.30" font-size="23.00" textLength="15.75" lengthAdjust="spacingAndGlyphs">2</text>
<line x1="461.85" y1="2006.90" x2="461.85" y2="2017.50" stroke="#231f20" stroke-width="1.10"/>
<text x="454.81" y="2047.30" font-size="23.00" textLength="14.24" lengthAdjust="spacingAndGlyphs">4</text>
<line x1="551.10" y1="2006.90" x2="551.10" y2="2017.50" stroke="#231f20" stroke-width="1.10"/>
<text x="543.23" y="2047.30" font-size="23.00" textLength="15.55" lengthAdjust="spacingAndGlyphs">6</text>
<text x="543.60" y="2079.10" font-size="23.00" textLength="15.01" lengthAdjust="spacingAndGlyphs">0</text>
<line x1="640.35" y1="2006.90" x2="640.35" y2="2017.50" stroke="#231f20" stroke-width="1.10"/>
<text x="632.45" y="2047.30" font-size="23.00" textLength="15.78" lengthAdjust="spacingAndGlyphs">7</text>
<text x="634.46" y="2079.10" font-size="23.00" textLength="11.22" lengthAdjust="spacingAndGlyphs">1</text>
<line x1="729.60" y1="2006.90" x2="729.60" y2="2017.50" stroke="#231f20" stroke-width="1.10"/>
<text x="721.96" y="2047.30" font-size="23.00" textLength="15.29" lengthAdjust="spacingAndGlyphs">8</text>
<text x="721.73" y="2079.10" font-size="23.00" textLength="15.75" lengthAdjust="spacingAndGlyphs">2</text>
<line x1="818.85" y1="2006.90" x2="818.85" y2="2017.50" stroke="#231f20" stroke-width="1.10"/>
<text x="805.42" y="2047.30" font-size="23.00" textLength="25.99" lengthAdjust="spacingAndGlyphs">10</text>
<text x="811.81" y="2079.10" font-size="23.00" textLength="14.24" lengthAdjust="spacingAndGlyphs">4</text>
<text x="25.20" y="2047.30" font-size="27.60" textLength="151.79" lengthAdjust="spacing">1st injection</text>
<text x="11.21" y="2079.10" font-size="27.60" textLength="165.78" lengthAdjust="spacing">2nd injection</text>
<text x="850.28" y="2063.50" font-size="27.60" textLength="81.82" lengthAdjust="spacing">Weeks</text>
<text x="1072.58" y="1748.92" font-size="36.05" textLength="17.43" lengthAdjust="spacingAndGlyphs" font-weight="bold" stroke="#231f20" stroke-width="1.60" stroke-linejoin="round">j</text>
<line x1="1231.10" y1="1772.80" x2="1231.10" y2="2007.40" stroke="#231f20" stroke-width="1.10"/>
<line x1="1220.00" y1="2006.90" x2="1231.10" y2="2006.90" stroke="#231f20" stroke-width="1.10"/>
<text x="1193.75" y="2014.10" font-size="23.00" textLength="15.01" lengthAdjust="spacingAndGlyphs">0</text>
<line x1="1220.00" y1="1953.60" x2="1231.10" y2="1953.60" stroke="#231f20" stroke-width="1.10"/>
<text x="1178.95" y="1960.80" font-size="23.00" textLength="29.88" lengthAdjust="spacingAndGlyphs">25</text>
<line x1="1220.00" y1="1900.30" x2="1231.10" y2="1900.30" stroke="#231f20" stroke-width="1.10"/>
<text x="1179.24" y="1907.50" font-size="23.00" textLength="29.50" lengthAdjust="spacingAndGlyphs">50</text>
<line x1="1220.00" y1="1847.00" x2="1231.10" y2="1847.00" stroke="#231f20" stroke-width="1.10"/>
<text x="1178.92" y="1854.20" font-size="23.00" textLength="29.91" lengthAdjust="spacingAndGlyphs">75</text>
<line x1="1220.00" y1="1793.70" x2="1231.10" y2="1793.70" stroke="#231f20" stroke-width="1.10"/>
<text x="1168.05" y="1800.90" font-size="23.00" textLength="40.60" lengthAdjust="spacingAndGlyphs">100</text>
<line x1="2021.90" y1="1772.80" x2="2021.90" y2="2007.40" stroke="#231f20" stroke-width="1.10"/>
<line x1="2021.90" y1="1772.80" x2="2033.10" y2="1772.80" stroke="#231f20" stroke-width="1.10"/>
<text x="2045.62" y="1780.00" font-size="23.00" textLength="13.06" lengthAdjust="spacingAndGlyphs">2</text>
<text x="2058.73" y="1767.50" font-size="17.30" textLength="6.32" lengthAdjust="spacingAndGlyphs">1</text>
<line x1="2021.90" y1="1804.10" x2="2033.10" y2="1804.10" stroke="#231f20" stroke-width="1.10"/>
<text x="2045.62" y="1811.70" font-size="23.00" textLength="13.06" lengthAdjust="spacingAndGlyphs">2</text>
<text x="2059.16" y="1799.20" font-size="17.30" textLength="10.47" lengthAdjust="spacingAndGlyphs">0</text>
<line x1="2021.90" y1="1835.40" x2="2033.10" y2="1835.40" stroke="#231f20" stroke-width="1.10"/>
<text x="2045.62" y="1843.40" font-size="23.00" textLength="13.06" lengthAdjust="spacingAndGlyphs">2</text>
<text x="2059.28" y="1830.90" font-size="17.30" textLength="14.33" lengthAdjust="spacingAndGlyphs">−1</text>
<line x1="2021.90" y1="1866.70" x2="2033.10" y2="1866.70" stroke="#231f20" stroke-width="1.10"/>
<text x="2045.62" y="1875.10" font-size="23.00" textLength="13.06" lengthAdjust="spacingAndGlyphs">2</text>
<text x="2059.11" y="1862.60" font-size="17.30" textLength="18.30" lengthAdjust="spacingAndGlyphs">−2</text>
<line x1="2021.90" y1="1898.00" x2="2033.10" y2="1898.00" stroke="#231f20" stroke-width="1.10"/>
<text x="2045.62" y="1906.80" font-size="23.00" textLength="13.06" lengthAdjust="spacingAndGlyphs">2</text>
<text x="2059.11" y="1894.30" font-size="17.30" textLength="18.19" lengthAdjust="spacingAndGlyphs">−3</text>
<line x1="2021.90" y1="1929.30" x2="2033.10" y2="1929.30" stroke="#231f20" stroke-width="1.10"/>
<text x="2045.62" y="1938.50" font-size="23.00" textLength="13.06" lengthAdjust="spacingAndGlyphs">2</text>
<text x="2059.12" y="1926.00" font-size="17.30" textLength="17.94" lengthAdjust="spacingAndGlyphs">−4</text>
<line x1="2021.90" y1="1960.60" x2="2033.10" y2="1960.60" stroke="#231f20" stroke-width="1.10"/>
<text x="2045.62" y="1970.20" font-size="23.00" textLength="13.06" lengthAdjust="spacingAndGlyphs">2</text>
<text x="2059.11" y="1957.70" font-size="17.30" textLength="18.15" lengthAdjust="spacingAndGlyphs">−5</text>
<line x1="2021.90" y1="1991.90" x2="2033.10" y2="1991.90" stroke="#231f20" stroke-width="1.10"/>
<text x="2045.62" y="2001.90" font-size="23.00" textLength="13.06" lengthAdjust="spacingAndGlyphs">2</text>
<text x="2059.11" y="1989.40" font-size="17.30" textLength="18.19" lengthAdjust="spacingAndGlyphs">−6</text>
<g transform="translate(2142.00 1852.60) rotate(90)"><text x="-2.26" y="0.00" font-size="27.60" textLength="79.04" lengthAdjust="spacing">Killing</text></g>
<g transform="translate(2109.30 1770.00) rotate(90)"><text x="-0.77" y="0.00" font-size="27.60" textLength="207.07" lengthAdjust="spacing">speed (1/killing t</text></g>
<g transform="translate(2101.10 1978.10) rotate(90)"><text x="-1.49" y="0.00" font-size="19.60" textLength="26.68" lengthAdjust="spacing">1/2</text></g>
<g transform="translate(2111.50 2003.10) rotate(90)"><text x="-0.16" y="0.00" font-size="26.50" textLength="9.17" lengthAdjust="spacingAndGlyphs">)</text></g>
<g transform="translate(1094.90 2010.30) rotate(-90)"><text x="-2.26" y="0.00" font-size="27.60" textLength="243.64" lengthAdjust="spacing">Macrophage killing</text></g>
<g transform="translate(1138.80 2008.00) rotate(-90)"><text x="-0.98" y="0.00" font-size="27.60" textLength="240.06" lengthAdjust="spacing">% target cell killing</text></g>
<line x1="1220.00" y1="2006.90" x2="2021.90" y2="2006.90" stroke="#231f20" stroke-width="1.10"/>
<line x1="1269.70" y1="2006.90" x2="1269.70" y2="2017.50" stroke="#231f20" stroke-width="1.10"/>
<text x="1262.20" y="2047.30" font-size="23.00" textLength="15.01" lengthAdjust="spacingAndGlyphs">0</text>
<line x1="1358.78" y1="2006.90" x2="1358.78" y2="2017.50" stroke="#231f20" stroke-width="1.10"/>
<text x="1352.89" y="2047.30" font-size="23.00" textLength="11.22" lengthAdjust="spacingAndGlyphs">1</text>
<line x1="1447.86" y1="2006.90" x2="1447.86" y2="2017.50" stroke="#231f20" stroke-width="1.10"/>
<text x="1439.99" y="2047.30" font-size="23.00" textLength="15.75" lengthAdjust="spacingAndGlyphs">2</text>
<line x1="1536.94" y1="2006.90" x2="1536.94" y2="2017.50" stroke="#231f20" stroke-width="1.10"/>
<text x="1529.90" y="2047.30" font-size="23.00" textLength="14.24" lengthAdjust="spacingAndGlyphs">4</text>
<line x1="1626.02" y1="2006.90" x2="1626.02" y2="2017.50" stroke="#231f20" stroke-width="1.10"/>
<text x="1618.15" y="2047.30" font-size="23.00" textLength="15.55" lengthAdjust="spacingAndGlyphs">6</text>
<text x="1618.52" y="2083.90" font-size="23.00" textLength="15.01" lengthAdjust="spacingAndGlyphs">0</text>
<line x1="1715.10" y1="2006.90" x2="1715.10" y2="2017.50" stroke="#231f20" stroke-width="1.10"/>
<text x="1707.20" y="2047.30" font-size="23.00" textLength="15.78" lengthAdjust="spacingAndGlyphs">7</text>
<text x="1709.21" y="2083.90" font-size="23.00" textLength="11.22" lengthAdjust="spacingAndGlyphs">1</text>
<line x1="1804.18" y1="2006.90" x2="1804.18" y2="2017.50" stroke="#231f20" stroke-width="1.10"/>
<text x="1796.54" y="2047.30" font-size="23.00" textLength="15.29" lengthAdjust="spacingAndGlyphs">8</text>
<text x="1796.31" y="2083.90" font-size="23.00" textLength="15.75" lengthAdjust="spacingAndGlyphs">2</text>
<line x1="1893.26" y1="2006.90" x2="1893.26" y2="2017.50" stroke="#231f20" stroke-width="1.10"/>
<text x="1879.83" y="2047.30" font-size="23.00" textLength="25.99" lengthAdjust="spacingAndGlyphs">10</text>
<text x="1886.22" y="2083.90" font-size="23.00" textLength="14.24" lengthAdjust="spacingAndGlyphs">4</text>
<line x1="1982.34" y1="2006.90" x2="1982.34" y2="2017.50" stroke="#231f20" stroke-width="1.10"/>
<text x="1968.90" y="2047.30" font-size="23.00" textLength="26.12" lengthAdjust="spacingAndGlyphs">16</text>
<text x="1974.70" y="2083.90" font-size="23.00" textLength="15.29" lengthAdjust="spacingAndGlyphs">8</text>
<text x="1092.30" y="2047.30" font-size="27.60" textLength="151.49" lengthAdjust="spacing">1st injection</text>
<text x="1078.21" y="2083.90" font-size="27.60" textLength="165.58" lengthAdjust="spacing">2nd injection</text>
<text x="2014.18" y="2069.30" font-size="27.60" textLength="81.82" lengthAdjust="spacing">Weeks</text>
<polygon points="191.05,1748.40 194.95,1748.40 194.95,1759.00 199.90,1756.50 193.00,1772.50 186.10,1756.50 191.05,1759.00" fill="#3a5fab"/>
<text x="204.74" y="1767.50" font-size="27.00" textLength="29.46" lengthAdjust="spacing">wt</text>
<text x="235.05" y="1755.40" font-size="20.00" textLength="32.79" lengthAdjust="spacing">allo</text>
<polygon points="549.35,1748.40 553.25,1748.40 553.25,1759.00 558.20,1756.50 551.30,1772.50 544.40,1756.50 549.35,1759.00" fill="#ec3632"/>
<text x="562.99" y="1767.50" font-size="27.00" textLength="43.44" lengthAdjust="spacing">HIP</text>
<text x="606.15" y="1755.40" font-size="20.00" textLength="32.49" lengthAdjust="spacing">allo</text>
<polygon points="1268.15,1748.40 1272.05,1748.40 1272.05,1759.00 1277.00,1756.50 1270.10,1772.50 1263.20,1756.50 1268.15,1759.00" fill="#ec3632"/>
<text x="1281.69" y="1767.50" font-size="27.00" textLength="43.44" lengthAdjust="spacing">HIP</text>
<text x="1324.85" y="1755.40" font-size="20.00" textLength="33.29" lengthAdjust="spacing">allo</text>
<polygon points="1624.15,1748.40 1628.05,1748.40 1628.05,1759.00 1633.00,1756.50 1626.10,1772.50 1619.20,1756.50 1624.15,1759.00" fill="#3a5fab"/>
<text x="1639.34" y="1767.50" font-size="27.00" textLength="29.36" lengthAdjust="spacing">wt</text>
<text x="1668.75" y="1755.40" font-size="20.00" textLength="33.09" lengthAdjust="spacing">allo</text>
<line x1="300.30" y1="623.50" x2="300.30" y2="645.80" stroke="#231f20" stroke-width="1.10"/>
<line x1="389.40" y1="592.90" x2="389.40" y2="614.40" stroke="#231f20" stroke-width="1.10"/>
<line x1="478.90" y1="519.60" x2="478.90" y2="570.60" stroke="#231f20" stroke-width="1.10"/>
<line x1="568.00" y1="585.20" x2="568.00" y2="701.80" stroke="#231f20" stroke-width="1.10"/>
<line x1="657.30" y1="536.30" x2="657.30" y2="694.30" stroke="#231f20" stroke-width="1.10"/>
<line x1="561.00" y1="545.00" x2="575.00" y2="545.00" stroke="#231f20" stroke-width="1.10"/>
<line x1="561.00" y1="555.40" x2="575.00" y2="555.40" stroke="#231f20" stroke-width="1.10"/>
<line x1="739.40" y1="545.50" x2="753.40" y2="545.50" stroke="#231f20" stroke-width="1.10"/>
<line x1="739.40" y1="556.50" x2="753.40" y2="556.50" stroke="#231f20" stroke-width="1.10"/>
<line x1="293.10" y1="550.50" x2="307.10" y2="550.50" stroke="#231f20" stroke-width="1.10"/>
<line x1="293.10" y1="554.40" x2="307.10" y2="554.40" stroke="#231f20" stroke-width="1.10"/>
<circle cx="210.80" cy="751.90" r="7.1" fill="#3a5fab"/>
<circle cx="300.10" cy="552.30" r="7.1" fill="#3a5fab"/>
<circle cx="389.40" cy="553.60" r="7.1" fill="#3a5fab"/>
<circle cx="478.90" cy="552.30" r="7.1" fill="#3a5fab"/>
<circle cx="568.00" cy="550.20" r="7.1" fill="#3a5fab"/>
<circle cx="657.30" cy="553.60" r="7.1" fill="#3a5fab"/>
<circle cx="746.40" cy="551.20" r="7.1" fill="#3a5fab"/>
<circle cx="835.70" cy="556.50" r="7.1" fill="#3a5fab"/>
<circle cx="534.50" cy="750.90" r="7.1" fill="#ec3632"/>
<circle cx="624.00" cy="750.90" r="7.1" fill="#ec3632"/>
<circle cx="713.00" cy="750.90" r="7.1" fill="#ec3632"/>
<circle cx="802.40" cy="750.90" r="7.1" fill="#ec3632"/>
<polygon points="300.30,628.80 306.90,640.85 293.70,640.85" fill="none" stroke="#3a5fab" stroke-width="1.1" stroke-linejoin="miter"/>
<polygon points="389.40,598.00 396.00,609.75 382.80,609.75" fill="none" stroke="#3a5fab" stroke-width="1.1" stroke-linejoin="miter"/>
<polygon points="478.90,525.90 485.50,537.95 472.30,537.95" fill="none" stroke="#3a5fab" stroke-width="1.1" stroke-linejoin="miter"/>
<polygon points="568.00,637.90 574.60,649.95 561.40,649.95" fill="none" stroke="#3a5fab" stroke-width="1.1" stroke-linejoin="miter"/>
<polygon points="657.30,609.90 663.90,621.95 650.70,621.95" fill="none" stroke="#3a5fab" stroke-width="1.1" stroke-linejoin="miter"/>
<polygon points="746.40,731.70 753.00,744.65 739.80,744.65" fill="none" stroke="#3a5fab" stroke-width="1.1" stroke-linejoin="miter"/>
<polygon points="835.70,738.30 842.30,750.75 829.10,750.75" fill="none" stroke="#3a5fab" stroke-width="1.1" stroke-linejoin="miter"/>
<line x1="300.30" y1="1044.40" x2="300.30" y2="1066.50" stroke="#231f20" stroke-width="1.10"/>
<line x1="389.40" y1="1012.90" x2="389.40" y2="1026.50" stroke="#231f20" stroke-width="1.10"/>
<line x1="478.90" y1="940.00" x2="478.90" y2="988.70" stroke="#231f20" stroke-width="1.10"/>
<line x1="568.00" y1="1010.40" x2="568.00" y2="1123.70" stroke="#231f20" stroke-width="1.10"/>
<line x1="657.30" y1="949.50" x2="657.30" y2="1088.40" stroke="#231f20" stroke-width="1.10"/>
<line x1="835.70" y1="1066.10" x2="835.70" y2="1138.80" stroke="#231f20" stroke-width="1.10"/>
<line x1="739.40" y1="967.00" x2="753.40" y2="967.00" stroke="#231f20" stroke-width="1.10"/>
<line x1="739.40" y1="977.60" x2="753.40" y2="977.60" stroke="#231f20" stroke-width="1.10"/>
<line x1="293.10" y1="967.00" x2="307.10" y2="967.00" stroke="#231f20" stroke-width="1.10"/>
<line x1="293.10" y1="976.00" x2="307.10" y2="976.00" stroke="#231f20" stroke-width="1.10"/>
<line x1="471.90" y1="970.00" x2="485.90" y2="970.00" stroke="#231f20" stroke-width="1.10"/>
<line x1="471.90" y1="980.00" x2="485.90" y2="980.00" stroke="#231f20" stroke-width="1.10"/>
<circle cx="210.80" cy="1171.30" r="7.1" fill="#3a5fab"/>
<circle cx="300.10" cy="971.70" r="7.1" fill="#3a5fab"/>
<circle cx="389.40" cy="974.60" r="7.1" fill="#3a5fab"/>
<circle cx="478.90" cy="975.00" r="7.1" fill="#3a5fab"/>
<circle cx="568.00" cy="975.10" r="7.1" fill="#3a5fab"/>
<circle cx="657.30" cy="974.60" r="7.1" fill="#3a5fab"/>
<circle cx="746.40" cy="972.30" r="7.1" fill="#3a5fab"/>
<circle cx="835.70" cy="971.40" r="7.1" fill="#3a5fab"/>
<circle cx="534.50" cy="1172.40" r="7.1" fill="#ec3632"/>
<circle cx="624.00" cy="1172.40" r="7.1" fill="#ec3632"/>
<circle cx="713.00" cy="1172.40" r="7.1" fill="#ec3632"/>
<circle cx="802.40" cy="1172.40" r="7.1" fill="#ec3632"/>
<polygon points="300.30,1049.70 306.90,1061.85 293.70,1061.85" fill="none" stroke="#3a5fab" stroke-width="1.1" stroke-linejoin="miter"/>
<polygon points="389.40,1013.50 396.00,1025.95 382.80,1025.95" fill="none" stroke="#3a5fab" stroke-width="1.1" stroke-linejoin="miter"/>
<polygon points="478.90,958.20 485.50,970.85 472.30,970.85" fill="none" stroke="#3a5fab" stroke-width="1.1" stroke-linejoin="miter"/>
<polygon points="568.00,1062.00 574.60,1073.65 561.40,1073.65" fill="none" stroke="#3a5fab" stroke-width="1.1" stroke-linejoin="miter"/>
<polygon points="657.30,1013.50 663.90,1025.55 650.70,1025.55" fill="none" stroke="#3a5fab" stroke-width="1.1" stroke-linejoin="miter"/>
<polygon points="746.40,1153.60 753.00,1166.25 739.80,1166.25" fill="none" stroke="#3a5fab" stroke-width="1.1" stroke-linejoin="miter"/>
<polygon points="835.70,1096.90 842.30,1109.05 829.10,1109.05" fill="none" stroke="#3a5fab" stroke-width="1.1" stroke-linejoin="miter"/>
<circle cx="210.80" cy="1587.30" r="7.1" fill="#3a5fab"/>
<circle cx="300.05" cy="1587.30" r="7.1" fill="#3a5fab"/>
<circle cx="389.30" cy="1587.30" r="7.1" fill="#3a5fab"/>
<circle cx="478.55" cy="1587.30" r="7.1" fill="#3a5fab"/>
<circle cx="567.80" cy="1587.30" r="7.1" fill="#3a5fab"/>
<circle cx="657.05" cy="1587.30" r="7.1" fill="#3a5fab"/>
<circle cx="746.30" cy="1587.30" r="7.1" fill="#3a5fab"/>
<circle cx="835.55" cy="1587.30" r="7.1" fill="#3a5fab"/>
<circle cx="534.40" cy="1587.30" r="7.1" fill="#ec3632"/>
<circle cx="623.65" cy="1587.30" r="7.1" fill="#ec3632"/>
<circle cx="712.90" cy="1587.30" r="7.1" fill="#ec3632"/>
<circle cx="802.15" cy="1587.30" r="7.1" fill="#ec3632"/>
<circle cx="210.80" cy="2003.90" r="7.1" fill="#3a5fab"/>
<circle cx="300.05" cy="2003.90" r="7.1" fill="#3a5fab"/>
<circle cx="389.30" cy="2003.90" r="7.1" fill="#3a5fab"/>
<circle cx="478.55" cy="2003.90" r="7.1" fill="#3a5fab"/>
<circle cx="567.80" cy="2003.90" r="7.1" fill="#3a5fab"/>
<circle cx="657.05" cy="2003.90" r="7.1" fill="#3a5fab"/>
<circle cx="746.30" cy="2003.90" r="7.1" fill="#3a5fab"/>
<circle cx="835.55" cy="2003.90" r="7.1" fill="#3a5fab"/>
<circle cx="534.40" cy="2003.90" r="7.1" fill="#ec3632"/>
<circle cx="623.65" cy="2003.90" r="7.1" fill="#ec3632"/>
<circle cx="712.90" cy="2003.90" r="7.1" fill="#ec3632"/>
<circle cx="802.15" cy="2003.90" r="7.1" fill="#ec3632"/>
<line x1="1732.00" y1="539.00" x2="1732.00" y2="645.00" stroke="#231f20" stroke-width="1.10"/>
<line x1="1821.60" y1="632.20" x2="1821.60" y2="700.00" stroke="#231f20" stroke-width="1.10"/>
<circle cx="1253.30" cy="751.10" r="7.1" fill="#ec3632"/>
<circle cx="1342.38" cy="751.10" r="7.1" fill="#ec3632"/>
<circle cx="1431.46" cy="751.10" r="7.1" fill="#ec3632"/>
<circle cx="1520.54" cy="751.10" r="7.1" fill="#ec3632"/>
<circle cx="1609.62" cy="751.10" r="7.1" fill="#ec3632"/>
<circle cx="1698.70" cy="751.10" r="7.1" fill="#ec3632"/>
<circle cx="1787.78" cy="751.10" r="7.1" fill="#ec3632"/>
<circle cx="1876.86" cy="751.10" r="7.1" fill="#ec3632"/>
<circle cx="1965.94" cy="751.10" r="7.1" fill="#ec3632"/>
<circle cx="1643.10" cy="751.00" r="7.1" fill="#3a5fab"/>
<circle cx="1732.00" cy="553.40" r="7.1" fill="#3a5fab"/>
<circle cx="1821.60" cy="555.20" r="7.1" fill="#3a5fab"/>
<circle cx="1910.50" cy="550.30" r="7.1" fill="#3a5fab"/>
<circle cx="1999.60" cy="551.20" r="7.1" fill="#3a5fab"/>
<polygon points="1732.00,586.10 1738.60,598.85 1725.40,598.85" fill="none" stroke="#3a5fab" stroke-width="1.1" stroke-linejoin="miter"/>
<polygon points="1821.60,660.20 1828.20,672.95 1815.00,672.95" fill="none" stroke="#3a5fab" stroke-width="1.1" stroke-linejoin="miter"/>
<polygon points="1910.50,616.40 1917.10,629.45 1903.90,629.45" fill="none" stroke="#3a5fab" stroke-width="1.1" stroke-linejoin="miter"/>
<polygon points="1999.60,737.20 2006.20,749.95 1993.00,749.95" fill="none" stroke="#3a5fab" stroke-width="1.1" stroke-linejoin="miter"/>
<line x1="1732.00" y1="972.30" x2="1732.00" y2="1069.50" stroke="#231f20" stroke-width="1.10"/>
<line x1="1821.60" y1="1081.40" x2="1821.60" y2="1130.80" stroke="#231f20" stroke-width="1.10"/>
<circle cx="1253.30" cy="1172.20" r="7.1" fill="#ec3632"/>
<circle cx="1342.38" cy="1172.20" r="7.1" fill="#ec3632"/>
<circle cx="1431.46" cy="1172.20" r="7.1" fill="#ec3632"/>
<circle cx="1520.54" cy="1172.20" r="7.1" fill="#ec3632"/>
<circle cx="1609.62" cy="1172.20" r="7.1" fill="#ec3632"/>
<circle cx="1698.70" cy="1172.20" r="7.1" fill="#ec3632"/>
<circle cx="1787.78" cy="1172.20" r="7.1" fill="#ec3632"/>
<circle cx="1876.86" cy="1172.20" r="7.1" fill="#ec3632"/>
<circle cx="1965.94" cy="1173.20" r="7.1" fill="#ec3632"/>
<circle cx="1643.10" cy="1173.20" r="7.1" fill="#3a5fab"/>
<circle cx="1732.00" cy="972.30" r="7.1" fill="#3a5fab"/>
<circle cx="1821.60" cy="971.80" r="7.1" fill="#3a5fab"/>
<circle cx="1910.50" cy="973.00" r="7.1" fill="#3a5fab"/>
<circle cx="1999.60" cy="973.00" r="7.1" fill="#3a5fab"/>
<polygon points="1732.00,1016.20 1738.60,1027.85 1725.40,1027.85" fill="none" stroke="#3a5fab" stroke-width="1.1" stroke-linejoin="miter"/>
<polygon points="1821.60,1100.40 1828.20,1112.75 1815.00,1112.75" fill="none" stroke="#3a5fab" stroke-width="1.1" stroke-linejoin="miter"/>
<polygon points="1910.50,1033.70 1917.10,1046.45 1903.90,1046.45" fill="none" stroke="#3a5fab" stroke-width="1.1" stroke-linejoin="miter"/>
<polygon points="1999.60,1157.60 2006.20,1170.45 1993.00,1170.45" fill="none" stroke="#3a5fab" stroke-width="1.1" stroke-linejoin="miter"/>
<circle cx="1253.30" cy="1587.50" r="7.1" fill="#ec3632"/>
<circle cx="1342.38" cy="1587.50" r="7.1" fill="#ec3632"/>
<circle cx="1431.46" cy="1587.50" r="7.1" fill="#ec3632"/>
<circle cx="1520.54" cy="1587.50" r="7.1" fill="#ec3632"/>
<circle cx="1609.62" cy="1587.50" r="7.1" fill="#ec3632"/>
<circle cx="1698.70" cy="1587.50" r="7.1" fill="#ec3632"/>
<circle cx="1787.78" cy="1587.50" r="7.1" fill="#ec3632"/>
<circle cx="1876.86" cy="1587.50" r="7.1" fill="#ec3632"/>
<circle cx="1965.94" cy="1587.50" r="7.1" fill="#ec3632"/>
<circle cx="1642.72" cy="1587.50" r="7.1" fill="#3a5fab"/>
<circle cx="1731.80" cy="1587.50" r="7.1" fill="#3a5fab"/>
<circle cx="1820.88" cy="1587.50" r="7.1" fill="#3a5fab"/>
<circle cx="1909.96" cy="1587.50" r="7.1" fill="#3a5fab"/>
<circle cx="1999.04" cy="1587.50" r="7.1" fill="#3a5fab"/>
<circle cx="1253.30" cy="2003.90" r="7.1" fill="#ec3632"/>
<circle cx="1342.38" cy="2003.90" r="7.1" fill="#ec3632"/>
<circle cx="1431.46" cy="2003.90" r="7.1" fill="#ec3632"/>
<circle cx="1520.54" cy="2003.90" r="7.1" fill="#ec3632"/>
<circle cx="1609.62" cy="2003.90" r="7.1" fill="#ec3632"/>
<circle cx="1698.70" cy="2003.90" r="7.1" fill="#ec3632"/>
<circle cx="1787.78" cy="2003.90" r="7.1" fill="#ec3632"/>
<circle cx="1876.86" cy="2003.90" r="7.1" fill="#ec3632"/>
<circle cx="1965.94" cy="2003.90" r="7.1" fill="#ec3632"/>
<circle cx="1642.72" cy="2003.90" r="7.1" fill="#3a5fab"/>
<circle cx="1731.80" cy="2003.90" r="7.1" fill="#3a5fab"/>
<circle cx="1820.88" cy="2003.90" r="7.1" fill="#3a5fab"/>
<circle cx="1909.96" cy="2003.90" r="7.1" fill="#3a5fab"/>
<circle cx="1999.04" cy="2003.90" r="7.1" fill="#3a5fab"/>
</svg>
</body></html>
